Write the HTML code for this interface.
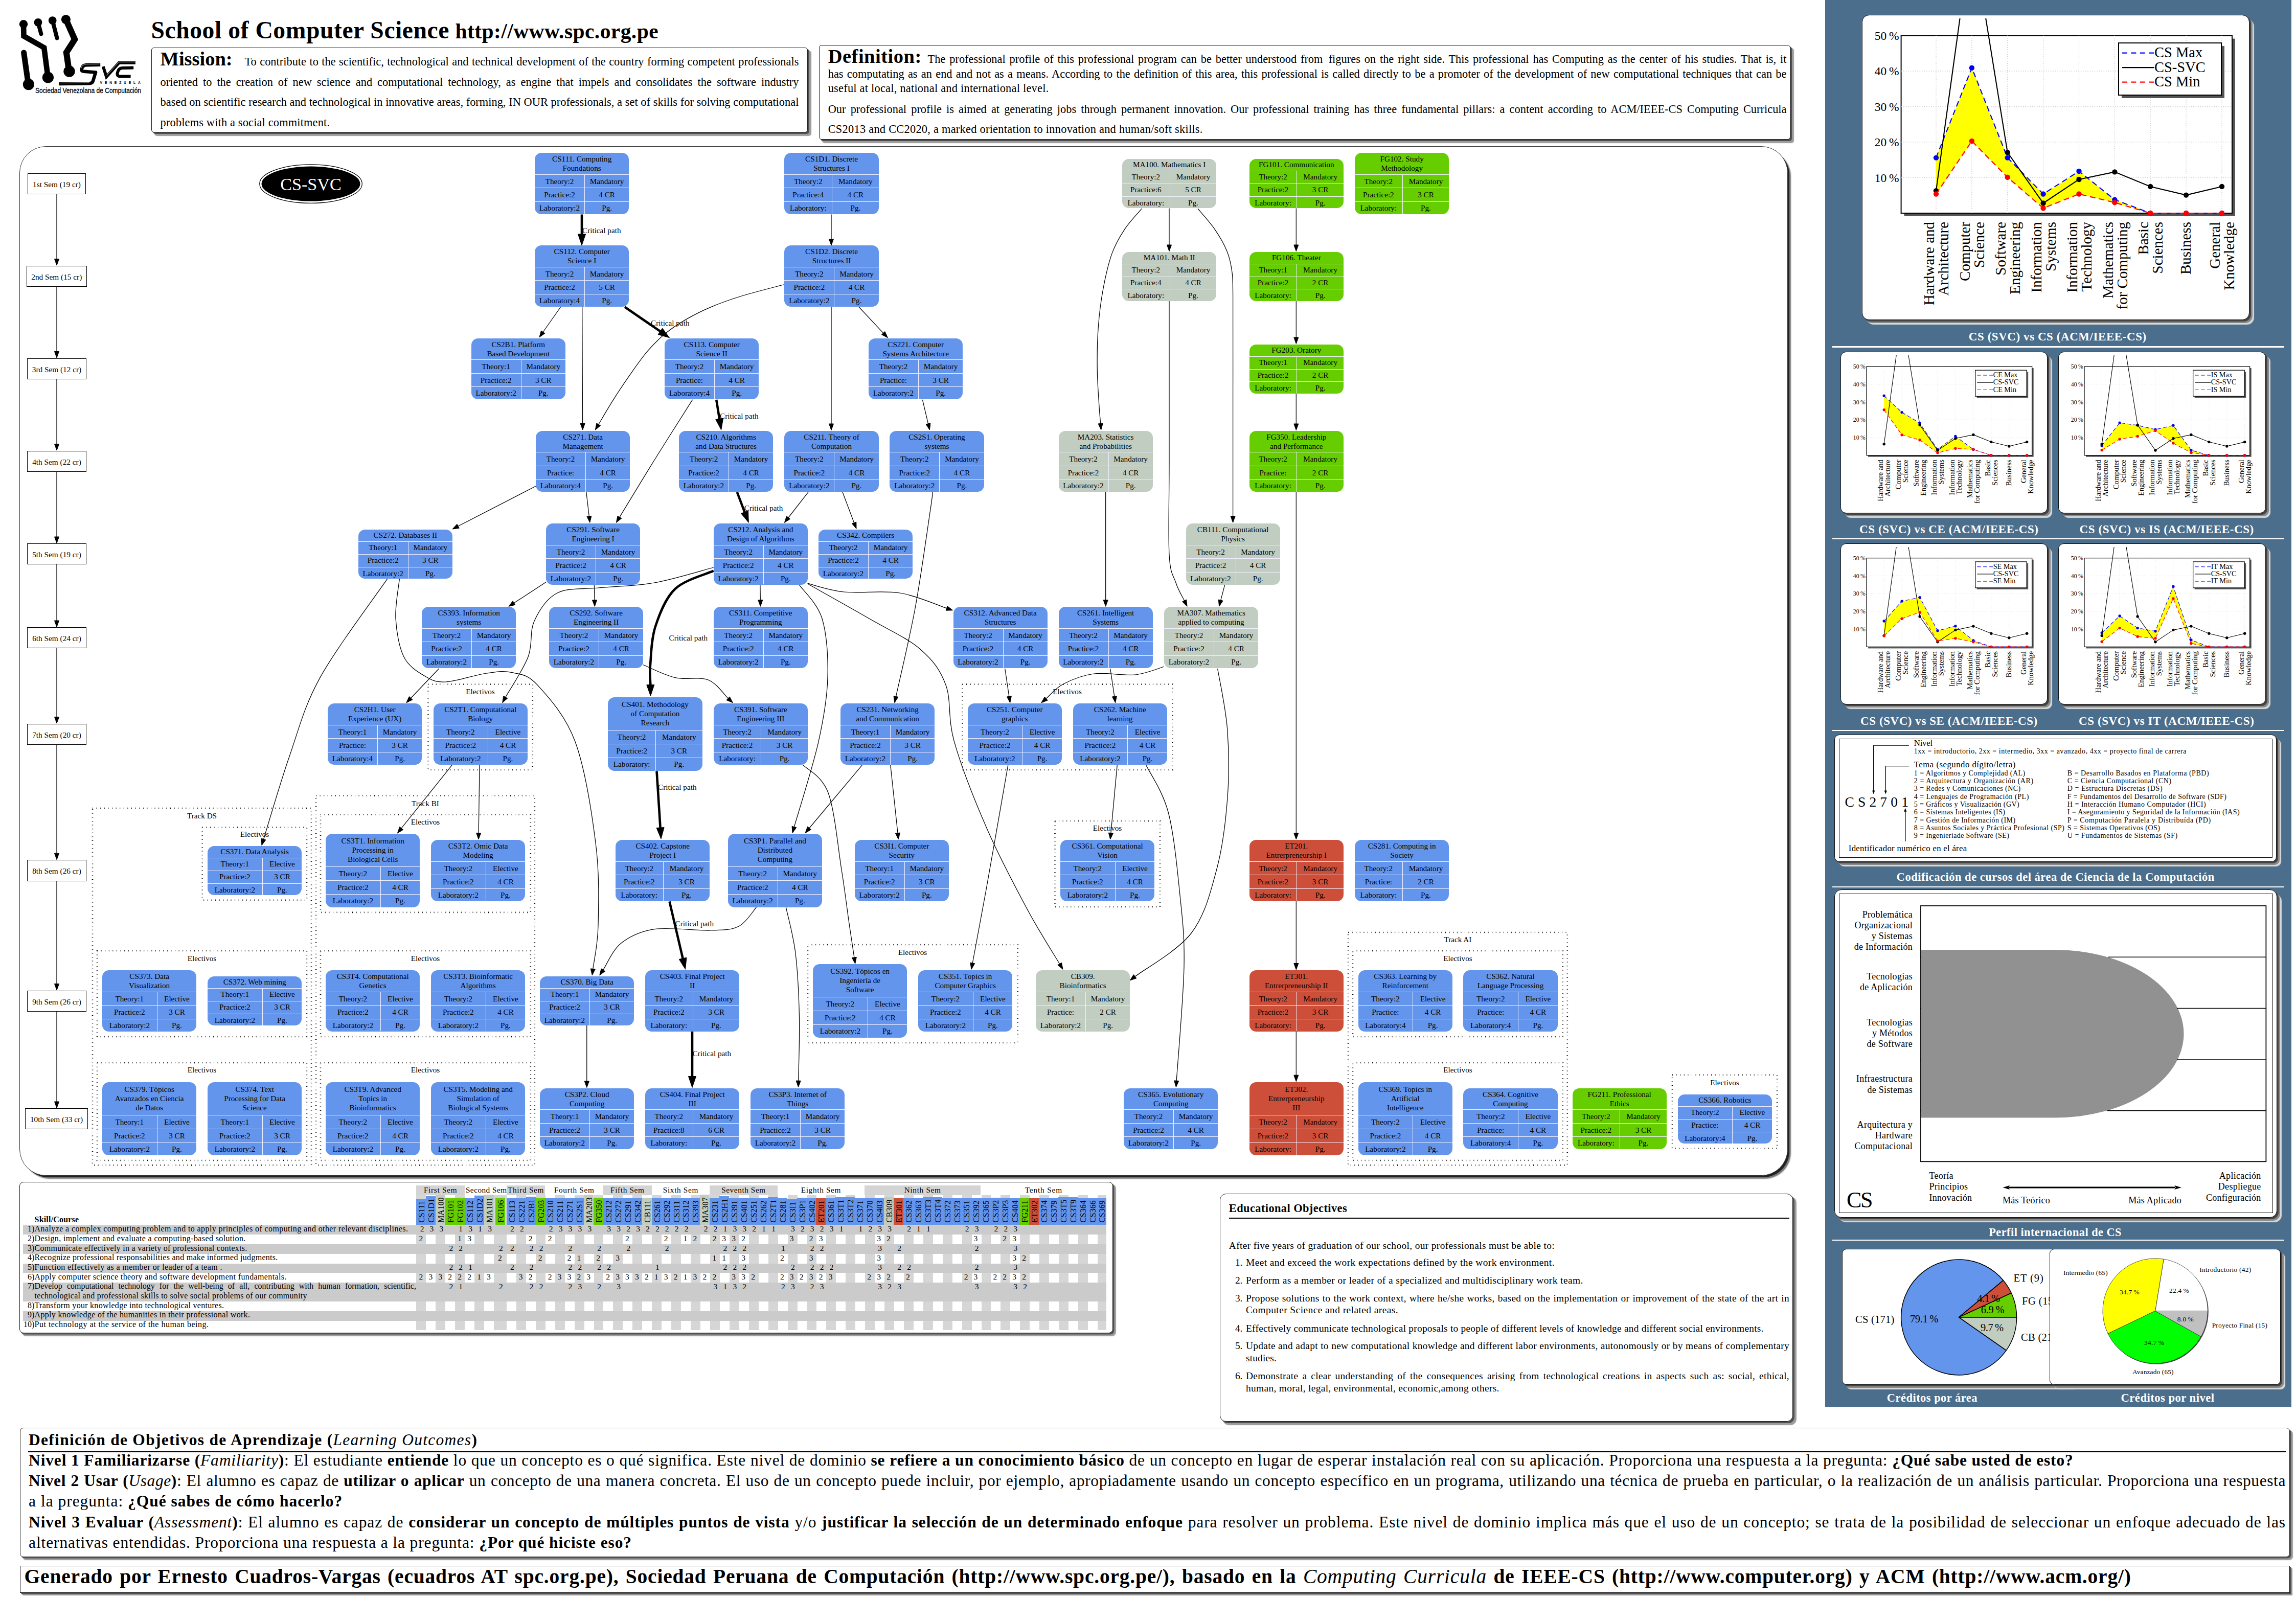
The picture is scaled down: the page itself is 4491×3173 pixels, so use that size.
<!DOCTYPE html><html><head><meta charset="utf-8"><title>Curricula</title><style>html,body{margin:0;padding:0;background:#fff}body{width:4491px;height:3173px;position:relative;overflow:hidden;font-family:"Liberation Serif",serif;color:#000}.t{position:absolute;white-space:nowrap;line-height:1;font-family:"Liberation Serif",serif}.s{font-family:"Liberation Sans",sans-serif}.b{font-weight:bold}.i{font-style:italic}.j{text-align:justify;text-align-last:justify}.n{position:absolute;width:184.3px;border-radius:13px;font:15.2px/18px "Liberation Serif",serif;text-align:center;overflow:hidden;white-space:nowrap;color:#000}.cb{background:#6495ed}.cg{background:#c1cdc1}.cv{background:#66cd00}.cr{background:#cd4f39}.nt{box-sizing:border-box;overflow:hidden}.nr{box-sizing:border-box;border-top:1.2px solid #eef;display:flex}.nr span{display:block;box-sizing:border-box}.nr span+span{border-left:1.2px solid #eef;flex:1}.nr.e span:first-child{width:106.7px}.nr.o span:first-child{width:92.7px}.nr.m span:first-child{width:97px}.k1{height:96px}.k1 .nt{height:23px;padding-top:2.1px}.k1 .r1{height:25px;line-height:21.6px}.k1 .r2{height:24.5px;line-height:21.8px}.k1 .r3{height:23.5px;line-height:23.5px}.k2{height:119.5px}.k2 .nt{height:41.6px;padding-top:3px}.k2 .r1{height:26.5px;line-height:25px}.k2 .r2{height:26.5px;line-height:25px}.k2 .r3{height:24.9px;line-height:23.4px}.k3{height:143.7px}.k3 .nt{height:64px;padding-top:5.2px}.k3 .r1{height:27px;line-height:25.5px}.k3 .r2{height:27px;line-height:25.5px}.k3 .r3{height:25.7px;line-height:24.2px}.sm{position:absolute;box-sizing:border-box;height:41.4px;border:1.2px solid #000;background:#fff;font:15.3px/42.4px "Liberation Serif",serif;text-align:center;white-space:nowrap}.hc{position:absolute;width:19px;bottom:0;font:15.8px/1 "Liberation Serif",serif;white-space:nowrap}.hc span{position:absolute;left:3px;bottom:4.4px;transform-origin:0 100%;transform:rotate(-90deg) translateY(100%);display:block;letter-spacing:0.1px}.dn{position:absolute;width:18.9px;text-align:center;font:15.6px/1 "Liberation Serif",serif}</style></head><body><svg style="position:absolute;left:0;top:0" width="300" height="200" viewBox="0 0 300 200"><g fill="none" stroke="#000" stroke-linejoin="miter" stroke-linecap="round"><polyline points="46,47.2 46.5,70.6 86.2,93.2 93.8,151.5" stroke-width="10.6" stroke-linecap="butt"/><polyline points="74.5,43.9 80.4,66.3" stroke-width="8"/><polyline points="102.7,40.1 111.5,74.4" stroke-width="8"/><polyline points="128.9,38 146.2,77.1 129.8,102.7 135.2,139.9" stroke-width="12" stroke-linecap="butt"/><polyline points="46.6,102.9 55.4,164.9" stroke-width="11"/></g><g fill="#000"><circle cx="46" cy="47.2" r="8.2"/><circle cx="93.9" cy="151.5" r="11.1"/><circle cx="74.5" cy="43.9" r="7.9"/><circle cx="102.7" cy="40.1" r="7.9"/><circle cx="128.9" cy="38" r="9.1"/><circle cx="135.5" cy="139.6" r="11.2"/><circle cx="55.9" cy="165.1" r="11.1"/></g><g fill="none" stroke="#000" stroke-width="6.6" stroke-linejoin="round" stroke-linecap="butt"><path d="M196.2,126.7 L169.4,127.1 Q161.5,127.3 160,134.4 Q158.4,139.5 163.9,139.8 L187.1,141.5 L181.6,159.4 Q179.8,163.2 174.9,163.3 L115.5,163.9"/><path d="M201.7,130.1 L208.2,150.2 L232.8,122.8 L264.9,122.8" stroke-linejoin="miter" stroke-width="6"/><path d="M261.2,132.6 L239.5,132.9 Q231.6,133.2 230,141.7 Q227.9,149 234.6,149.4 L255.6,149.6" stroke-width="6"/></g><g fill="none" stroke="#fff" stroke-width="0.7"><path d="M194.4,125.2 L169.4,125.6 Q160.2,125.9 158.4,134.1 "/><path d="M208.8,147.6 L232.4,121.3 L263.9,121.3"/><path d="M117.6,162.4 L174.9,161.8"/></g></svg>
<div class="t s b" style="top:159px;font-size:6.7px;left:195.6px;letter-spacing:4.84px;">VENEZUELA</div>
<div class="t s" style="top:168.8px;font-size:15.2px;left:68.8px;transform-origin:0 0;transform:scaleX(0.791);-webkit-text-stroke:0.3px #000;">Sociedad Venezolana de Computación</div>
<div class="t b" style="top:36.1px;font-size:47.6px;left:295.5px;letter-spacing:0.56px;">School of Computer Science</div>
<div class="t b" style="top:41.2px;font-size:41.5px;left:890.5px;letter-spacing:0.43px;">http://www.spc.org.pe</div>
<div style="position:absolute;left:295.5px;top:92.7px;width:1284.5px;height:165.9px;box-sizing:border-box;border:1px solid #222;border-radius:5px;background:#fff;box-shadow:3px 3px 0 0 #505050,6.3px 6.3px 1.2px 0 #9c9c9c;"></div>
<div class="t b" style="top:95.6px;font-size:38.5px;left:313.6px;letter-spacing:-0.02px;">Mission:</div>
<div class="t j" style="top:110.2px;font-size:22.4px;left:478.5px;width:1083.9px;">To contribute to the scientific, technological and technical development of the country forming competent professionals</div>
<div class="t j" style="top:149.7px;font-size:22.4px;left:313.6px;width:1248.8px;">oriented to the creation of new science and computational technology, as engine that impels and consolidates the software industry</div>
<div class="t j" style="top:189.4px;font-size:22.4px;left:313.6px;width:1248.8px;">based on scientific research and technological in innovative areas, forming, IN OUR professionals, a set of skills for solving computational</div>
<div class="t" style="top:229.4px;font-size:22.4px;left:313.6px;letter-spacing:0.15px;">problems with a social commitment.</div>
<div style="position:absolute;left:1601.8px;top:87.9px;width:1900.7px;height:185.5px;box-sizing:border-box;border:1px solid #222;border-radius:5px;background:#fff;box-shadow:3px 3px 0 0 #505050,6.3px 6.3px 1.2px 0 #9c9c9c;"></div>
<div class="t b" style="top:90.8px;font-size:38.5px;left:1619.7px;letter-spacing:0.50px;">Definition:</div>
<div class="t j" style="top:105.4px;font-size:22.4px;left:1814.6px;width:1679.9px;">The professional profile of this professional program can be better understood from figures on the right side. This professional has Computing as the center of his studies. That is, it</div>
<div class="t j" style="top:133.8px;font-size:22.4px;left:1619.7px;width:1874.8px;">has computating as an end and not as a means. According to the definition of this area, this professional is called directly to be a promoter of the development of new computational techniques that can be</div>
<div class="t" style="top:162.4px;font-size:22.4px;left:1619.7px;letter-spacing:0.23px;">useful at local, national and international level.</div>
<div class="t j" style="top:202.8px;font-size:22.4px;left:1619.7px;width:1874.8px;">Our professional profile is aimed at generating jobs through permanent innovation. Our professional training has three fundamental pillars: a content according to ACM/IEEE-CS Computing Curricula</div>
<div class="t" style="top:242.4px;font-size:22.4px;left:1619.7px;letter-spacing:0.25px;">CS2013 and CC2020, a marked orientation to innovation and human/soft skills.</div>
<div style="position:absolute;left:38px;top:285.6px;width:3459px;height:2014.5px;box-sizing:border-box;border:1.3px solid #333;border-radius:52px;background:#fff;box-shadow:4px 4px 0 -1px #222,7px 7px 2px -1px #777"></div>
<svg style="position:absolute;left:0;top:0" width="3560" height="2320" viewBox="0 0 3560 2320"><g fill="none" stroke="#000" stroke-width="2.6" stroke-dasharray="1 6.6"><rect x="837.5" y="1338.6" width="204.3" height="167.4"/><rect x="1882.5" y="1338.6" width="410.9" height="167.4"/><rect x="181" y="1581" width="428" height="698.4"/><rect x="395.7" y="1618.6" width="204.3" height="142.2"/><rect x="190" y="1860" width="410" height="168"/><rect x="190" y="2079" width="410" height="191"/><rect x="618" y="1556.5" width="427.8" height="722.9"/><rect x="627" y="1593.5" width="410.8" height="191.4"/><rect x="627" y="1860" width="410.8" height="168"/><rect x="627" y="2079" width="410.8" height="191"/><rect x="2063.5" y="1606" width="205.5" height="168"/><rect x="1580" y="1848" width="410.7" height="192"/><rect x="2637" y="1824" width="428.8" height="455.4"/><rect x="2646" y="1860" width="410.8" height="168"/><rect x="2646" y="2079" width="410.8" height="191"/><rect x="3271" y="2102.7" width="205" height="143.9"/></g><g fill="none" stroke="#000"><path d="M1138,419.5 L1138,458" stroke-width="4.6"/><path d="M1096.7,600.5 L1062.2,649.5" stroke-width="1.25"/><path d="M1138.7,600.5 L1139.6,828.5" stroke-width="1.25"/><path d="M1222,600.5 L1291.4,648.2" stroke-width="4.6"/><path d="M1626,419.5 L1626,467.5" stroke-width="1.25"/><path d="M1534.4,556.5 C1520.5,560.2 1474.7,571.7 1450.8,579 C1426.8,586.4 1409,592.8 1390.7,600.6 C1372.3,608.3 1355.6,616.8 1340.6,625.6 C1325.6,634.4 1313,642.7 1300.5,653.2 C1288,663.6 1277.2,674.4 1265.5,688.2 C1253.8,702 1241.3,720.4 1230.4,735.8 C1219.6,751.2 1210.3,765.1 1200.4,780.9 C1190.4,796.6 1175.7,822 1170.7,830.3" stroke-width="1.25"/><path d="M1626,600.5 L1626,829" stroke-width="1.25"/><path d="M1680,600.5 L1727.8,651.6" stroke-width="1.25"/><path d="M1354.6,781.9 C1342.2,801.6 1303.8,861.7 1280,900 C1256.2,938.3 1223.3,993 1211.9,1011.6" stroke-width="1.25"/><path d="M1401.2,781.9 L1407.2,819.3" stroke-width="4.6"/><path d="M1804.4,781.9 L1815.5,828.8" stroke-width="1.25"/><path d="M1048,951 L896.1,1029.3" stroke-width="1.25"/><path d="M1146.8,962.7 L1152.3,1009.9" stroke-width="1.25"/><path d="M1441.8,962.7 L1456.5,1001.7" stroke-width="4.6"/><path d="M1581,962.7 L1542.1,1012.5" stroke-width="1.25"/><path d="M1648,962.7 L1670.6,1022.6" stroke-width="1.25"/><path d="M1824.4,962.7 C1823.6,968.9 1825.1,962.1 1819.4,1000 C1813.7,1037.9 1801.2,1129.6 1790,1190 C1778.8,1250.4 1758.7,1333.7 1752.5,1362.5" stroke-width="1.25"/><path d="M2233.3,408.2 C2227.8,414.8 2209.9,433.3 2200.3,447.8 C2190.6,462.3 2182.3,475.8 2175.2,495.4 C2168.1,515 2162.2,541.3 2157.7,565.5 C2153.2,589.7 2150.1,614.8 2148.2,640.6 C2146.3,666.5 2145.9,695.7 2146.2,720.8 C2146.4,745.8 2148.6,772.9 2149.7,790.9 C2150.8,808.9 2152.2,822.3 2152.7,828.5" stroke-width="1.25"/><path d="M2287,407.5 L2287,479" stroke-width="1.25"/><path d="M2343,408.2 C2348.4,414.8 2366.1,434.1 2375.6,447.8 C2385,461.5 2393.9,476.6 2399.6,490.4 C2405.3,504.1 2407.6,515.4 2409.6,530.4 C2411.6,545.5 2411.3,538.8 2411.6,580.5 C2412,622.3 2411.6,709.3 2411.6,780.9 C2411.6,852.4 2411.6,971.6 2411.6,1009.8" stroke-width="1.25"/><path d="M2287,588.5 C2287,640.4 2287,817.2 2287,900 C2287,982.8 2284.8,1045 2287,1085 C2289.2,1125 2295.1,1125 2300,1140 C2304.9,1155 2313.9,1169.2 2316.6,1175" stroke-width="1.25"/><path d="M2535.3,407.5 L2535.3,479" stroke-width="1.25"/><path d="M2535.3,588.5 L2535.3,660" stroke-width="1.25"/><path d="M2535.3,769.5 L2535.3,829" stroke-width="1.25"/><path d="M2535.3,962.5 L2535.3,1629.5" stroke-width="1.25"/><path d="M2535.3,1762.5 L2535.3,1884.5" stroke-width="1.25"/><path d="M2535.3,2017.5 L2535.3,2103.2" stroke-width="1.25"/><path d="M2162.7,962.5 L2162.7,1173.8" stroke-width="1.25"/><path d="M2395.6,1144.3 L2387.8,1174.2" stroke-width="1.25"/><path d="M1068,1138.7 L1005.5,1179.5" stroke-width="1.25"/><path d="M1162.3,1144.3 L1163,1173.8" stroke-width="1.25"/><path d="M1395.7,1110 C1376.4,1115 1317.6,1133.3 1280,1140 C1242.4,1146.7 1201.7,1146.7 1170,1150 C1138.3,1153.3 1110.8,1149.2 1090,1160 C1069.2,1170.8 1054.5,1194.2 1045,1215 C1035.5,1235.8 1042.4,1260.2 1033,1285 C1023.6,1309.8 996.2,1350.7 988.8,1363.8" stroke-width="1.25"/><path d="M1395.7,1116.7 C1383.2,1122.6 1339.5,1133.9 1320.6,1152 C1301.6,1170.1 1290.1,1200.7 1282,1225.4 C1273.9,1250.2 1273.6,1281.5 1272,1300.5 C1270.4,1319.5 1272.3,1333.1 1272.3,1339.6" stroke-width="4.6"/><path d="M1486.9,1144.3 L1487.3,1173.8" stroke-width="1.25"/><path d="M1563.5,1144.3 C1570.9,1155.2 1598.8,1179.8 1608,1210 C1617.2,1240.2 1620.2,1285.5 1619,1325.6 C1617.8,1365.7 1611.9,1402.1 1601,1450.8 C1590.1,1499.5 1561.4,1589.8 1553.4,1617.6" stroke-width="1.25"/><path d="M1579.5,1141.2 C1591.4,1144 1620.9,1154.9 1651,1158 C1681.1,1161.1 1726.6,1154.7 1760,1160 C1793.4,1165.3 1836.3,1184.9 1851.6,1189.9" stroke-width="1.25"/><path d="M1581,1142.7 C1600.8,1153.9 1663.5,1188.8 1700,1210 C1736.5,1231.2 1775,1248.3 1800,1270 C1825,1291.7 1838.9,1309.9 1850,1340 C1861.1,1370.1 1853.2,1404.1 1866.5,1450.8 C1879.8,1497.5 1906.1,1565.1 1930,1620 C1953.9,1674.9 1986.2,1735.7 2010,1780 C2033.8,1824.3 2062.2,1868 2072.6,1885.5" stroke-width="1.25"/><path d="M757.8,1132.2 C735.8,1164.4 658,1267.6 626,1325.6 C594,1383.6 584.4,1427.3 566,1480 C547.6,1532.7 524,1614.7 515.6,1641.7" stroke-width="1.25"/><path d="M781.4,1132.2 C780.2,1145.2 772.6,1184.5 774,1210 C775.4,1235.5 780.7,1266.3 790,1285 C799.3,1303.7 816.4,1313.8 830,1322 C843.6,1330.2 851.2,1334.8 871.5,1334 C891.8,1333.2 930,1320.1 951.7,1317 C973.4,1313.9 985.1,1311.7 1001.8,1315.6 C1018.5,1319.5 1031.3,1318.1 1051.8,1340.6 C1072.3,1363.1 1106.1,1399.1 1125,1450.8 C1143.9,1502.5 1157.8,1591.1 1165.3,1651 C1172.8,1710.9 1170.9,1769.3 1170,1810 C1169.1,1850.7 1161.5,1881.2 1159.8,1895.4" stroke-width="1.25"/><path d="M858.5,1308 L803.5,1365.7" stroke-width="1.25"/><path d="M1258,1300.5 C1268.4,1304.7 1299.4,1320.7 1320.6,1325.6 C1341.8,1330.5 1367.7,1323.2 1385,1330 C1402.3,1336.8 1417.6,1360.2 1424.1,1366.2" stroke-width="1.25"/><path d="M1965.7,1308 L1973.8,1362.3" stroke-width="1.25"/><path d="M2171.7,1308 L2179.8,1362.3" stroke-width="1.25"/><path d="M2277,1304 C2267.5,1306.7 2242.8,1317.7 2220,1320 C2197.2,1322.3 2163.3,1315 2140,1318 C2116.7,1321 2095.6,1329.9 2080,1338 C2064.4,1346.1 2051.9,1361.8 2046.3,1366.6" stroke-width="1.25"/><path d="M2381.6,1308 C2384.8,1327.6 2397.4,1383.8 2400.6,1425.8 C2403.8,1467.8 2404.4,1514.3 2401,1560 C2397.6,1605.7 2391.8,1655.8 2380,1700 C2368.2,1744.2 2357.1,1790 2330.5,1825 C2303.9,1860 2238.6,1896 2220.2,1910.2" stroke-width="1.25"/><path d="M884,1496.9 L785.2,1620.2" stroke-width="1.25"/><path d="M938,1496.9 L936.2,1629.5" stroke-width="1.25"/><path d="M1284.5,1508.4 L1291.6,1619" stroke-width="4.6"/><path d="M1570,1495.9 C1578.3,1505.1 1607.3,1516.8 1620,1551 C1632.7,1585.2 1639.3,1659.5 1646,1701 C1652.7,1742.5 1655.9,1771.3 1660,1800 C1664.1,1828.7 1669,1860.8 1670.9,1872.9" stroke-width="1.25"/><path d="M1686.2,1496.9 L1583,1620" stroke-width="1.25"/><path d="M1741.8,1496.9 L1756,1629.6" stroke-width="1.25"/><path d="M1971.7,1496.9 C1964.6,1537.4 1940.6,1675.5 1929,1740 C1917.4,1804.5 1906.7,1860 1902.3,1884" stroke-width="1.25"/><path d="M2185.2,1496.9 L2172.9,1629.6" stroke-width="1.25"/><path d="M2241.8,1496.9 C2249.1,1512.4 2274.4,1547.6 2285.4,1590 C2296.4,1632.4 2302.9,1701.3 2308,1751.3 C2313.1,1801.3 2317.1,1829.5 2316,1890 C2314.9,1950.5 2303.7,2076.9 2301.2,2114.2" stroke-width="1.25"/><path d="M1309.5,1763.5 L1335.6,1874.9" stroke-width="4.6"/><path d="M1479.3,1775 C1473.6,1781.2 1459.9,1804.5 1445,1812 C1430.1,1819.5 1417.4,1819.1 1390,1820 C1362.6,1820.9 1309.7,1813.4 1280.5,1817.6 C1251.3,1821.8 1231.8,1831.7 1215,1845 C1198.2,1858.3 1185.6,1888.7 1179.8,1897.4" stroke-width="1.25"/><path d="M1537.4,1775 C1540.5,1790 1551.7,1829.2 1556,1865 C1560.3,1900.8 1562.6,1948.5 1563.5,1990 C1564.4,2031.5 1562,2093.5 1561.7,2114.2" stroke-width="1.25"/><path d="M1147.8,2006 L1147.8,2115" stroke-width="1.25"/><path d="M1354,2018 L1354,2105.5" stroke-width="4.6"/><path d="M111,380 L111,506.5" stroke-width="1.25"/><path d="M111,560.5 L111,687.5" stroke-width="1.25"/><path d="M111,741.5 L111,868.5" stroke-width="1.25"/><path d="M111,922.5 L111,1050" stroke-width="1.25"/><path d="M111,1104 L111,1214" stroke-width="1.25"/><path d="M111,1268 L111,1402.5" stroke-width="1.25"/><path d="M111,1456.5 L111,1669.2" stroke-width="1.25"/><path d="M111,1723.2 L111,1924.5" stroke-width="1.25"/><path d="M111,1978.5 L111,2155" stroke-width="1.25"/></g><g fill="#000" stroke="#000" stroke-width="1"><polygon points="1138,480 1130.5,458 1145.5,458"/><polygon points="1055,659.7 1058.5,646.9 1065.9,652.1"/><polygon points="1139.7,841 1135.1,828.5 1144.1,828.5"/><polygon points="1309.5,660.7 1287.1,654.4 1295.6,642.1"/><polygon points="1626,480 1621.5,467.5 1630.5,467.5"/><polygon points="1164.3,841 1166.9,827.9 1174.6,832.6"/><polygon points="1626,841.5 1621.5,829 1630.5,829"/><polygon points="1736.3,660.7 1724.5,654.6 1731,648.5"/><polygon points="1205.4,1022.3 1208.1,1009.3 1215.8,1014"/><polygon points="1410.7,841 1399.8,820.5 1414.6,818.1"/><polygon points="1818.4,841 1811.1,829.9 1819.9,827.8"/><polygon points="885,1035 894,1025.3 898.2,1033.3"/><polygon points="1153.8,1022.3 1147.9,1010.4 1156.8,1009.4"/><polygon points="1464.3,1022.3 1449.5,1004.4 1463.5,999.1"/><polygon points="1534.4,1022.3 1538.6,1009.7 1545.6,1015.2"/><polygon points="1675,1034.3 1666.4,1024.2 1674.8,1021"/><polygon points="1749.8,1374.7 1748.1,1361.5 1756.9,1363.4"/><polygon points="2153.7,841 2148.2,828.9 2157.2,828.2"/><polygon points="2287,491.5 2282.5,479 2291.5,479"/><polygon points="2411.6,1022.3 2407.1,1009.8 2416.1,1009.8"/><polygon points="2322,1186.3 2312.6,1176.9 2320.7,1173.1"/><polygon points="2535.3,491.5 2530.8,479 2539.8,479"/><polygon points="2535.3,672.5 2530.8,660 2539.8,660"/><polygon points="2535.3,841.5 2530.8,829 2539.8,829"/><polygon points="2535.3,1642 2530.8,1629.5 2539.8,1629.5"/><polygon points="2535.3,1897 2530.8,1884.5 2539.8,1884.5"/><polygon points="2535.3,2115.7 2530.8,2103.2 2539.8,2103.2"/><polygon points="2162.7,1186.3 2158.2,1173.8 2167.2,1173.8"/><polygon points="2384.6,1186.3 2383.4,1173.1 2392.1,1175.3"/><polygon points="995,1186.3 1003,1175.7 1007.9,1183.2"/><polygon points="1163.3,1186.3 1158.5,1173.9 1167.5,1173.7"/><polygon points="982.7,1374.7 984.9,1361.6 992.7,1366"/><polygon points="1272.5,1361.6 1264.8,1339.7 1279.8,1339.5"/><polygon points="1487.4,1186.3 1482.8,1173.9 1491.8,1173.7"/><polygon points="1550,1629.6 1549.1,1616.3 1557.8,1618.8"/><polygon points="1863.5,1193.8 1850.2,1194.2 1853,1185.6"/><polygon points="2079,1896.3 2068.8,1887.8 2076.5,1883.3"/><polygon points="511.9,1653.6 511.3,1640.3 519.9,1643"/><polygon points="1158.3,1907.8 1155.3,1894.9 1164.3,1895.9"/><polygon points="794.9,1374.7 800.3,1362.5 806.8,1368.8"/><polygon points="1433.3,1374.7 1421.1,1369.5 1427.2,1362.9"/><polygon points="1975.7,1374.7 1969.4,1363 1978.3,1361.7"/><polygon points="2181.7,1374.7 2175.4,1363 2184.3,1361.7"/><polygon points="2036.8,1374.7 2043.4,1363.2 2049.2,1370"/><polygon points="2210.3,1917.8 2217.4,1906.6 2222.9,1913.7"/><polygon points="777.4,1630 781.7,1617.4 788.7,1623.1"/><polygon points="936,1642 931.7,1629.4 940.7,1629.6"/><polygon points="1293,1641 1284.1,1619.5 1299.1,1618.6"/><polygon points="1672.7,1885.3 1666.4,1873.6 1675.3,1872.3"/><polygon points="1575,1629.6 1579.6,1617.1 1586.5,1622.9"/><polygon points="1757.3,1642 1751.5,1630 1760.4,1629.1"/><polygon points="1900,1896.3 1897.9,1883.2 1906.7,1884.8"/><polygon points="2171.7,1642 2168.4,1629.1 2177.3,1630"/><polygon points="2300.4,2126.7 2296.7,2113.9 2305.7,2114.5"/><polygon points="1340.6,1896.3 1328.3,1876.6 1342.9,1873.2"/><polygon points="1172.8,1907.8 1176,1894.9 1183.5,1899.9"/><polygon points="1561.5,2126.7 1557.2,2114.1 1566.2,2114.3"/><polygon points="1147.8,2127.5 1143.3,2115 1152.3,2115"/><polygon points="1354,2127.5 1346.5,2105.5 1361.5,2105.5"/><polygon points="111,519 106.5,506.5 115.5,506.5"/><polygon points="111,700 106.5,687.5 115.5,687.5"/><polygon points="111,881 106.5,868.5 115.5,868.5"/><polygon points="111,1062.5 106.5,1050 115.5,1050"/><polygon points="111,1226.5 106.5,1214 115.5,1214"/><polygon points="111,1415 106.5,1402.5 115.5,1402.5"/><polygon points="111,1681.7 106.5,1669.2 115.5,1669.2"/><polygon points="111,1937 106.5,1924.5 115.5,1924.5"/><polygon points="111,2167.5 106.5,2155 115.5,2155"/></g><ellipse cx="608" cy="359.6" rx="100.3" ry="37.8" fill="none" stroke="#000" stroke-width="1.2"/><ellipse cx="608" cy="359.6" rx="96.5" ry="34" fill="#000"/></svg>
<div class="t" style="top:344px;font-size:34.2px;left:608px;transform:translateX(-50%);color:#fff;">CS-SVC</div>
<div class="t" style="top:1345.3px;font-size:15.2px;left:939.5px;transform:translateX(-50%);">Electivos</div>
<div class="t" style="top:1345.3px;font-size:15.2px;left:2087.6px;transform:translateX(-50%);">Electivos</div>
<div class="t" style="top:1588.3px;font-size:15.2px;left:395px;transform:translateX(-50%);">Track DS</div>
<div class="t" style="top:1624.3px;font-size:15.2px;left:498px;transform:translateX(-50%);">Electivos</div>
<div class="t" style="top:1867px;font-size:15.2px;left:395px;transform:translateX(-50%);">Electivos</div>
<div class="t" style="top:2085.3px;font-size:15.2px;left:395px;transform:translateX(-50%);">Electivos</div>
<div class="t" style="top:1563.8px;font-size:15.2px;left:832px;transform:translateX(-50%);">Track BI</div>
<div class="t" style="top:1599.9px;font-size:15.2px;left:832px;transform:translateX(-50%);">Electivos</div>
<div class="t" style="top:1867px;font-size:15.2px;left:832px;transform:translateX(-50%);">Electivos</div>
<div class="t" style="top:2085.3px;font-size:15.2px;left:832px;transform:translateX(-50%);">Electivos</div>
<div class="t" style="top:1612.3px;font-size:15.2px;left:2166px;transform:translateX(-50%);">Electivos</div>
<div class="t" style="top:1855.3px;font-size:15.2px;left:1785px;transform:translateX(-50%);">Electivos</div>
<div class="t" style="top:1830.3px;font-size:15.2px;left:2851.4px;transform:translateX(-50%);">Track AI</div>
<div class="t" style="top:1867px;font-size:15.2px;left:2851.4px;transform:translateX(-50%);">Electivos</div>
<div class="t" style="top:2085.3px;font-size:15.2px;left:2851.4px;transform:translateX(-50%);">Electivos</div>
<div class="t" style="top:2110.3px;font-size:15.2px;left:3373.5px;transform:translateX(-50%);">Electivos</div>
<div class="t" style="top:443.3px;font-size:15.2px;left:1139px;">Critical path</div>
<div class="t" style="top:624.3px;font-size:15.2px;left:1273px;">Critical path</div>
<div class="t" style="top:805.7px;font-size:15.2px;left:1408px;">Critical path</div>
<div class="t" style="top:986.3px;font-size:15.2px;left:1455.8px;">Critical path</div>
<div class="t" style="top:1240.3px;font-size:15.2px;left:1308.5px;">Critical path</div>
<div class="t" style="top:1532.3px;font-size:15.2px;left:1287px;">Critical path</div>
<div class="t" style="top:1799.3px;font-size:15.2px;left:1320.6px;">Critical path</div>
<div class="t" style="top:2053.3px;font-size:15.2px;left:1354.6px;">Critical path</div>
<div class="sm" style="left:54px;top:339.1px;width:114px">1st Sem (19 cr)</div>
<div class="sm" style="left:51.6px;top:519.6px;width:118.4px">2nd Sem (15 cr)</div>
<div class="sm" style="left:53px;top:700.6px;width:116px">3rd Sem (12 cr)</div>
<div class="sm" style="left:53px;top:881.6px;width:116px">4th Sem (22 cr)</div>
<div class="sm" style="left:53px;top:1063.1px;width:116px">5th Sem (19 cr)</div>
<div class="sm" style="left:53px;top:1227.1px;width:116px">6th Sem (24 cr)</div>
<div class="sm" style="left:53px;top:1415.6px;width:116px">7th Sem (20 cr)</div>
<div class="sm" style="left:53px;top:1682.3px;width:116px">8th Sem (26 cr)</div>
<div class="sm" style="left:53px;top:1937.6px;width:116px">9th Sem (26 cr)</div>
<div class="sm" style="left:49px;top:2168.1px;width:123px">10th Sem (33 cr)</div>
<div class="n k2 cb" style="left:1046px;top:299.2px"><div class="nt">CS111. Computing<br>Foundations</div><div class="nr r1 m"><span>Theory:2</span><span>Mandatory</span></div><div class="nr r2 m"><span>Practice:2</span><span>4 CR</span></div><div class="nr r3 m"><span>Laboratory:2</span><span>Pg.</span></div></div>
<div class="n k2 cb" style="left:1534.4px;top:299.2px"><div class="nt">CS1D1. Discrete<br>Structures I</div><div class="nr r1 o"><span>Theory:2</span><span>Mandatory</span></div><div class="nr r2 o"><span>Practice:4</span><span>4 CR</span></div><div class="nr r3 o"><span>Laboratory:</span><span>Pg.</span></div></div>
<div class="n k1 cg" style="left:2195px;top:311px"><div class="nt">MA100. Mathematics I</div><div class="nr r1 o"><span>Theory:2</span><span>Mandatory</span></div><div class="nr r2 o"><span>Practice:6</span><span>5 CR</span></div><div class="nr r3 o"><span>Laboratory:</span><span>Pg.</span></div></div>
<div class="n k1 cv" style="left:2443.7px;top:311px"><div class="nt">FG101. Communication</div><div class="nr r1 o"><span>Theory:2</span><span>Mandatory</span></div><div class="nr r2 o"><span>Practice:2</span><span>3 CR</span></div><div class="nr r3 o"><span>Laboratory:</span><span>Pg.</span></div></div>
<div class="n k2 cv" style="left:2650px;top:299.2px"><div class="nt">FG102. Study<br>Methodology</div><div class="nr r1 o"><span>Theory:2</span><span>Mandatory</span></div><div class="nr r2 o"><span>Practice:2</span><span>3 CR</span></div><div class="nr r3 o"><span>Laboratory:</span><span>Pg.</span></div></div>
<div class="n k2 cb" style="left:1046px;top:480.4px"><div class="nt">CS112. Computer<br>Science I</div><div class="nr r1 m"><span>Theory:2</span><span>Mandatory</span></div><div class="nr r2 m"><span>Practice:2</span><span>5 CR</span></div><div class="nr r3 m"><span>Laboratory:4</span><span>Pg.</span></div></div>
<div class="n k2 cb" style="left:1534.4px;top:480.4px"><div class="nt">CS1D2. Discrete<br>Structures II</div><div class="nr r1 m"><span>Theory:2</span><span>Mandatory</span></div><div class="nr r2 m"><span>Practice:2</span><span>4 CR</span></div><div class="nr r3 m"><span>Laboratory:2</span><span>Pg.</span></div></div>
<div class="n k1 cg" style="left:2195px;top:492.6px"><div class="nt">MA101. Math II</div><div class="nr r1 o"><span>Theory:2</span><span>Mandatory</span></div><div class="nr r2 o"><span>Practice:4</span><span>4 CR</span></div><div class="nr r3 o"><span>Laboratory:</span><span>Pg.</span></div></div>
<div class="n k1 cv" style="left:2443.7px;top:492.6px"><div class="nt">FG106. Theater</div><div class="nr r1 o"><span>Theory:1</span><span>Mandatory</span></div><div class="nr r2 o"><span>Practice:2</span><span>2 CR</span></div><div class="nr r3 o"><span>Laboratory:</span><span>Pg.</span></div></div>
<div class="n k2 cb" style="left:921.6px;top:661.5px"><div class="nt">CS2B1. Platform<br>Based Development</div><div class="nr r1 m"><span>Theory:1</span><span>Mandatory</span></div><div class="nr r2 m"><span>Practice:2</span><span>3 CR</span></div><div class="nr r3 m"><span>Laboratory:2</span><span>Pg.</span></div></div>
<div class="n k2 cb" style="left:1300px;top:661.5px"><div class="nt">CS113. Computer<br>Science II</div><div class="nr r1 m"><span>Theory:2</span><span>Mandatory</span></div><div class="nr r2 m"><span>Practice:</span><span>4 CR</span></div><div class="nr r3 m"><span>Laboratory:4</span><span>Pg.</span></div></div>
<div class="n k2 cb" style="left:1699px;top:661.5px"><div class="nt">CS221. Computer<br>Systems Architecture</div><div class="nr r1 m"><span>Theory:2</span><span>Mandatory</span></div><div class="nr r2 m"><span>Practice:</span><span>3 CR</span></div><div class="nr r3 m"><span>Laboratory:2</span><span>Pg.</span></div></div>
<div class="n k1 cv" style="left:2443.7px;top:673.6px"><div class="nt">FG203. Oratory</div><div class="nr r1 o"><span>Theory:1</span><span>Mandatory</span></div><div class="nr r2 o"><span>Practice:2</span><span>2 CR</span></div><div class="nr r3 o"><span>Laboratory:</span><span>Pg.</span></div></div>
<div class="n k2 cb" style="left:1048px;top:842.5px"><div class="nt">CS271. Data<br>Management</div><div class="nr r1 m"><span>Theory:2</span><span>Mandatory</span></div><div class="nr r2 m"><span>Practice:</span><span>4 CR</span></div><div class="nr r3 m"><span>Laboratory:4</span><span>Pg.</span></div></div>
<div class="n k2 cb" style="left:1328px;top:842.5px"><div class="nt">CS210. Algorithms<br>and Data Structures</div><div class="nr r1 m"><span>Theory:2</span><span>Mandatory</span></div><div class="nr r2 m"><span>Practice:2</span><span>4 CR</span></div><div class="nr r3 m"><span>Laboratory:2</span><span>Pg.</span></div></div>
<div class="n k2 cb" style="left:1534.4px;top:842.5px"><div class="nt">CS211. Theory of<br>Computation</div><div class="nr r1 m"><span>Theory:2</span><span>Mandatory</span></div><div class="nr r2 m"><span>Practice:2</span><span>4 CR</span></div><div class="nr r3 m"><span>Laboratory:2</span><span>Pg.</span></div></div>
<div class="n k2 cb" style="left:1740.3px;top:842.5px"><div class="nt">CS2S1. Operating<br>systems</div><div class="nr r1 m"><span>Theory:2</span><span>Mandatory</span></div><div class="nr r2 m"><span>Practice:2</span><span>4 CR</span></div><div class="nr r3 m"><span>Laboratory:2</span><span>Pg.</span></div></div>
<div class="n k2 cg" style="left:2070.5px;top:842.5px"><div class="nt">MA203. Statistics<br>and Probabilities</div><div class="nr r1 m"><span>Theory:2</span><span>Mandatory</span></div><div class="nr r2 m"><span>Practice:2</span><span>4 CR</span></div><div class="nr r3 m"><span>Laboratory:2</span><span>Pg.</span></div></div>
<div class="n k2 cv" style="left:2443.7px;top:842.5px"><div class="nt">FG350. Leadership<br>and Performance</div><div class="nr r1 o"><span>Theory:2</span><span>Mandatory</span></div><div class="nr r2 o"><span>Practice:</span><span>2 CR</span></div><div class="nr r3 o"><span>Laboratory:</span><span>Pg.</span></div></div>
<div class="n k1 cb" style="left:700.7px;top:1036px"><div class="nt">CS272. Databases II</div><div class="nr r1 m"><span>Theory:1</span><span>Mandatory</span></div><div class="nr r2 m"><span>Practice:2</span><span>3 CR</span></div><div class="nr r3 m"><span>Laboratory:2</span><span>Pg.</span></div></div>
<div class="n k2 cb" style="left:1068px;top:1024px"><div class="nt">CS291. Software<br>Engineering I</div><div class="nr r1 m"><span>Theory:2</span><span>Mandatory</span></div><div class="nr r2 m"><span>Practice:2</span><span>4 CR</span></div><div class="nr r3 m"><span>Laboratory:2</span><span>Pg.</span></div></div>
<div class="n k2 cb" style="left:1395.7px;top:1024px"><div class="nt">CS212. Analysis and<br>Design of Algorithms</div><div class="nr r1 m"><span>Theory:2</span><span>Mandatory</span></div><div class="nr r2 m"><span>Practice:2</span><span>4 CR</span></div><div class="nr r3 m"><span>Laboratory:2</span><span>Pg.</span></div></div>
<div class="n k1 cb" style="left:1601px;top:1036px"><div class="nt">CS342. Compilers</div><div class="nr r1 m"><span>Theory:2</span><span>Mandatory</span></div><div class="nr r2 m"><span>Practice:2</span><span>4 CR</span></div><div class="nr r3 m"><span>Laboratory:2</span><span>Pg.</span></div></div>
<div class="n k2 cg" style="left:2319.5px;top:1024px"><div class="nt">CB111. Computational<br>Physics</div><div class="nr r1 m"><span>Theory:2</span><span>Mandatory</span></div><div class="nr r2 m"><span>Practice:2</span><span>4 CR</span></div><div class="nr r3 m"><span>Laboratory:2</span><span>Pg.</span></div></div>
<div class="n k2 cb" style="left:825px;top:1187.3px"><div class="nt">CS393. Information<br>systems</div><div class="nr r1 m"><span>Theory:2</span><span>Mandatory</span></div><div class="nr r2 m"><span>Practice:2</span><span>4 CR</span></div><div class="nr r3 m"><span>Laboratory:2</span><span>Pg.</span></div></div>
<div class="n k2 cb" style="left:1074px;top:1187.3px"><div class="nt">CS292. Software<br>Engineering II</div><div class="nr r1 m"><span>Theory:2</span><span>Mandatory</span></div><div class="nr r2 m"><span>Practice:2</span><span>4 CR</span></div><div class="nr r3 m"><span>Laboratory:2</span><span>Pg.</span></div></div>
<div class="n k2 cb" style="left:1395.7px;top:1187.3px"><div class="nt">CS311. Competitive<br>Programming</div><div class="nr r1 m"><span>Theory:2</span><span>Mandatory</span></div><div class="nr r2 m"><span>Practice:2</span><span>4 CR</span></div><div class="nr r3 m"><span>Laboratory:2</span><span>Pg.</span></div></div>
<div class="n k2 cb" style="left:1864.5px;top:1187.3px"><div class="nt">CS312. Advanced Data<br>Structures</div><div class="nr r1 m"><span>Theory:2</span><span>Mandatory</span></div><div class="nr r2 m"><span>Practice:2</span><span>4 CR</span></div><div class="nr r3 m"><span>Laboratory:2</span><span>Pg.</span></div></div>
<div class="n k2 cb" style="left:2070.5px;top:1187.3px"><div class="nt">CS261. Intelligent<br>Systems</div><div class="nr r1 m"><span>Theory:2</span><span>Mandatory</span></div><div class="nr r2 m"><span>Practice:2</span><span>4 CR</span></div><div class="nr r3 m"><span>Laboratory:2</span><span>Pg.</span></div></div>
<div class="n k2 cg" style="left:2277px;top:1187.3px"><div class="nt">MA307. Mathematics<br>applied to computing</div><div class="nr r1 m"><span>Theory:2</span><span>Mandatory</span></div><div class="nr r2 m"><span>Practice:2</span><span>4 CR</span></div><div class="nr r3 m"><span>Laboratory:2</span><span>Pg.</span></div></div>
<div class="n k2 cb" style="left:641px;top:1376.2px"><div class="nt">CS2H1. User<br>Experience (UX)</div><div class="nr r1 m"><span>Theory:1</span><span>Mandatory</span></div><div class="nr r2 m"><span>Practice:</span><span>3 CR</span></div><div class="nr r3 m"><span>Laboratory:4</span><span>Pg.</span></div></div>
<div class="n k2 cb" style="left:847.5px;top:1376.2px"><div class="nt">CS2T1. Computational<br>Biology</div><div class="nr r1 e"><span>Theory:2</span><span>Elective</span></div><div class="nr r2 e"><span>Practice:2</span><span>4 CR</span></div><div class="nr r3 e"><span>Laboratory:2</span><span>Pg.</span></div></div>
<div class="n k3 cb" style="left:1189.3px;top:1364px"><div class="nt">CS401. Methodology<br>of Computation<br>Research</div><div class="nr r1 o"><span>Theory:2</span><span>Mandatory</span></div><div class="nr r2 o"><span>Practice:2</span><span>3 CR</span></div><div class="nr r3 o"><span>Laboratory:</span><span>Pg.</span></div></div>
<div class="n k2 cb" style="left:1395.7px;top:1376.2px"><div class="nt">CS391. Software<br>Engineering III</div><div class="nr r1 o"><span>Theory:2</span><span>Mandatory</span></div><div class="nr r2 o"><span>Practice:2</span><span>3 CR</span></div><div class="nr r3 o"><span>Laboratory:</span><span>Pg.</span></div></div>
<div class="n k2 cb" style="left:1644px;top:1376.2px"><div class="nt">CS231. Networking<br>and Communication</div><div class="nr r1 m"><span>Theory:1</span><span>Mandatory</span></div><div class="nr r2 m"><span>Practice:2</span><span>3 CR</span></div><div class="nr r3 m"><span>Laboratory:2</span><span>Pg.</span></div></div>
<div class="n k2 cb" style="left:1892.6px;top:1376.2px"><div class="nt">CS251. Computer<br>graphics</div><div class="nr r1 e"><span>Theory:2</span><span>Elective</span></div><div class="nr r2 e"><span>Practice:2</span><span>4 CR</span></div><div class="nr r3 e"><span>Laboratory:2</span><span>Pg.</span></div></div>
<div class="n k2 cb" style="left:2098.6px;top:1376.2px"><div class="nt">CS262. Machine<br>learning</div><div class="nr r1 e"><span>Theory:2</span><span>Elective</span></div><div class="nr r2 e"><span>Practice:2</span><span>4 CR</span></div><div class="nr r3 e"><span>Laboratory:2</span><span>Pg.</span></div></div>
<div class="n k1 cb" style="left:406px;top:1655px"><div class="nt">CS371. Data Analysis</div><div class="nr r1 e"><span>Theory:1</span><span>Elective</span></div><div class="nr r2 e"><span>Practice:2</span><span>3 CR</span></div><div class="nr r3 e"><span>Laboratory:2</span><span>Pg.</span></div></div>
<div class="n k3 cb" style="left:637px;top:1631px"><div class="nt">CS3T1. Information<br>Processing in<br>Biological Cells</div><div class="nr r1 e"><span>Theory:2</span><span>Elective</span></div><div class="nr r2 e"><span>Practice:2</span><span>4 CR</span></div><div class="nr r3 e"><span>Laboratory:2</span><span>Pg.</span></div></div>
<div class="n k2 cb" style="left:843px;top:1643px"><div class="nt">CS3T2. Omic Data<br>Modeling</div><div class="nr r1 e"><span>Theory:2</span><span>Elective</span></div><div class="nr r2 e"><span>Practice:2</span><span>4 CR</span></div><div class="nr r3 e"><span>Laboratory:2</span><span>Pg.</span></div></div>
<div class="n k2 cb" style="left:1204px;top:1643px"><div class="nt">CS402. Capstone<br>Project I</div><div class="nr r1 o"><span>Theory:2</span><span>Mandatory</span></div><div class="nr r2 o"><span>Practice:2</span><span>3 CR</span></div><div class="nr r3 o"><span>Laboratory:</span><span>Pg.</span></div></div>
<div class="n k3 cb" style="left:1423.7px;top:1631px"><div class="nt">CS3P1. Parallel and<br>Distributed<br>Computing</div><div class="nr r1 m"><span>Theory:2</span><span>Mandatory</span></div><div class="nr r2 m"><span>Practice:2</span><span>4 CR</span></div><div class="nr r3 m"><span>Laboratory:2</span><span>Pg.</span></div></div>
<div class="n k2 cb" style="left:1671.7px;top:1643px"><div class="nt">CS3I1. Computer<br>Security</div><div class="nr r1 m"><span>Theory:1</span><span>Mandatory</span></div><div class="nr r2 m"><span>Practice:2</span><span>3 CR</span></div><div class="nr r3 m"><span>Laboratory:2</span><span>Pg.</span></div></div>
<div class="n k2 cb" style="left:2074px;top:1643px"><div class="nt">CS361. Computational<br>Vision</div><div class="nr r1 e"><span>Theory:2</span><span>Elective</span></div><div class="nr r2 e"><span>Practice:2</span><span>4 CR</span></div><div class="nr r3 e"><span>Laboratory:2</span><span>Pg.</span></div></div>
<div class="n k2 cr" style="left:2443.7px;top:1643px"><div class="nt">ET201.<br>Entrerpreneurship I</div><div class="nr r1 o"><span>Theory:2</span><span>Mandatory</span></div><div class="nr r2 o"><span>Practice:2</span><span>3 CR</span></div><div class="nr r3 o"><span>Laboratory:</span><span>Pg.</span></div></div>
<div class="n k2 cb" style="left:2650px;top:1643px"><div class="nt">CS281. Computing in<br>Society</div><div class="nr r1 o"><span>Theory:2</span><span>Mandatory</span></div><div class="nr r2 o"><span>Practice:</span><span>2 CR</span></div><div class="nr r3 o"><span>Laboratory:</span><span>Pg.</span></div></div>
<div class="n k2 cb" style="left:200px;top:1898px"><div class="nt">CS373. Data<br>Visualization</div><div class="nr r1 e"><span>Theory:1</span><span>Elective</span></div><div class="nr r2 e"><span>Practice:2</span><span>3 CR</span></div><div class="nr r3 e"><span>Laboratory:2</span><span>Pg.</span></div></div>
<div class="n k1 cb" style="left:406px;top:1910px"><div class="nt">CS372. Web mining</div><div class="nr r1 e"><span>Theory:1</span><span>Elective</span></div><div class="nr r2 e"><span>Practice:2</span><span>3 CR</span></div><div class="nr r3 e"><span>Laboratory:2</span><span>Pg.</span></div></div>
<div class="n k2 cb" style="left:637px;top:1898px"><div class="nt">CS3T4. Computational<br>Genetics</div><div class="nr r1 e"><span>Theory:2</span><span>Elective</span></div><div class="nr r2 e"><span>Practice:2</span><span>4 CR</span></div><div class="nr r3 e"><span>Laboratory:2</span><span>Pg.</span></div></div>
<div class="n k2 cb" style="left:843px;top:1898px"><div class="nt">CS3T3. Bioinformatic<br>Algorithms</div><div class="nr r1 e"><span>Theory:2</span><span>Elective</span></div><div class="nr r2 e"><span>Practice:2</span><span>4 CR</span></div><div class="nr r3 e"><span>Laboratory:2</span><span>Pg.</span></div></div>
<div class="n k1 cb" style="left:1056px;top:1910px"><div class="nt">CS370. Big Data</div><div class="nr r1 m"><span>Theory:1</span><span>Mandatory</span></div><div class="nr r2 m"><span>Practice:2</span><span>3 CR</span></div><div class="nr r3 m"><span>Laboratory:2</span><span>Pg.</span></div></div>
<div class="n k2 cb" style="left:1262px;top:1898px"><div class="nt">CS403. Final Project<br>II</div><div class="nr r1 o"><span>Theory:2</span><span>Mandatory</span></div><div class="nr r2 o"><span>Practice:2</span><span>3 CR</span></div><div class="nr r3 o"><span>Laboratory:</span><span>Pg.</span></div></div>
<div class="n k3 cb" style="left:1590px;top:1886px"><div class="nt">CS392. Tópicos en<br>Ingeniería de<br>Software</div><div class="nr r1 e"><span>Theory:2</span><span>Elective</span></div><div class="nr r2 e"><span>Practice:2</span><span>4 CR</span></div><div class="nr r3 e"><span>Laboratory:2</span><span>Pg.</span></div></div>
<div class="n k2 cb" style="left:1796px;top:1898px"><div class="nt">CS351. Topics in<br>Computer Graphics</div><div class="nr r1 e"><span>Theory:2</span><span>Elective</span></div><div class="nr r2 e"><span>Practice:2</span><span>4 CR</span></div><div class="nr r3 e"><span>Laboratory:2</span><span>Pg.</span></div></div>
<div class="n k2 cg" style="left:2026px;top:1898px"><div class="nt">CB309.<br>Bioinformatics</div><div class="nr r1 m"><span>Theory:1</span><span>Mandatory</span></div><div class="nr r2 m"><span>Practice:</span><span>2 CR</span></div><div class="nr r3 m"><span>Laboratory:2</span><span>Pg.</span></div></div>
<div class="n k2 cr" style="left:2443.7px;top:1898px"><div class="nt">ET301.<br>Entrerpreneurship II</div><div class="nr r1 o"><span>Theory:2</span><span>Mandatory</span></div><div class="nr r2 o"><span>Practice:2</span><span>3 CR</span></div><div class="nr r3 o"><span>Laboratory:</span><span>Pg.</span></div></div>
<div class="n k2 cb" style="left:2656.6px;top:1898px"><div class="nt">CS363. Learning by<br>Reinforcement</div><div class="nr r1 e"><span>Theory:2</span><span>Elective</span></div><div class="nr r2 e"><span>Practice:</span><span>4 CR</span></div><div class="nr r3 e"><span>Laboratory:4</span><span>Pg.</span></div></div>
<div class="n k2 cb" style="left:2862.4px;top:1898px"><div class="nt">CS362. Natural<br>Language Processing</div><div class="nr r1 e"><span>Theory:2</span><span>Elective</span></div><div class="nr r2 e"><span>Practice:</span><span>4 CR</span></div><div class="nr r3 e"><span>Laboratory:4</span><span>Pg.</span></div></div>
<div class="n k3 cb" style="left:200px;top:2116.7px"><div class="nt">CS379. Tópicos<br>Avanzados en Ciencia<br>de Datos</div><div class="nr r1 e"><span>Theory:1</span><span>Elective</span></div><div class="nr r2 e"><span>Practice:2</span><span>3 CR</span></div><div class="nr r3 e"><span>Laboratory:2</span><span>Pg.</span></div></div>
<div class="n k3 cb" style="left:406px;top:2116.7px"><div class="nt">CS374. Text<br>Processing for Data<br>Science</div><div class="nr r1 e"><span>Theory:1</span><span>Elective</span></div><div class="nr r2 e"><span>Practice:2</span><span>3 CR</span></div><div class="nr r3 e"><span>Laboratory:2</span><span>Pg.</span></div></div>
<div class="n k3 cb" style="left:637px;top:2116.7px"><div class="nt">CS3T9. Advanced<br>Topics in<br>Bioinformatics</div><div class="nr r1 e"><span>Theory:2</span><span>Elective</span></div><div class="nr r2 e"><span>Practice:2</span><span>4 CR</span></div><div class="nr r3 e"><span>Laboratory:2</span><span>Pg.</span></div></div>
<div class="n k3 cb" style="left:843px;top:2116.7px"><div class="nt">CS3T5. Modeling and<br>Simulation of<br>Biological Systems</div><div class="nr r1 e"><span>Theory:2</span><span>Elective</span></div><div class="nr r2 e"><span>Practice:2</span><span>4 CR</span></div><div class="nr r3 e"><span>Laboratory:2</span><span>Pg.</span></div></div>
<div class="n k2 cb" style="left:1056px;top:2128.7px"><div class="nt">CS3P2. Cloud<br>Computing</div><div class="nr r1 m"><span>Theory:1</span><span>Mandatory</span></div><div class="nr r2 m"><span>Practice:2</span><span>3 CR</span></div><div class="nr r3 m"><span>Laboratory:2</span><span>Pg.</span></div></div>
<div class="n k2 cb" style="left:1262px;top:2128.7px"><div class="nt">CS404. Final Project<br>III</div><div class="nr r1 o"><span>Theory:2</span><span>Mandatory</span></div><div class="nr r2 o"><span>Practice:8</span><span>6 CR</span></div><div class="nr r3 o"><span>Laboratory:</span><span>Pg.</span></div></div>
<div class="n k2 cb" style="left:1468px;top:2128.7px"><div class="nt">CS3P3. Internet of<br>Things</div><div class="nr r1 m"><span>Theory:1</span><span>Mandatory</span></div><div class="nr r2 m"><span>Practice:2</span><span>3 CR</span></div><div class="nr r3 m"><span>Laboratory:2</span><span>Pg.</span></div></div>
<div class="n k2 cb" style="left:2198px;top:2128.7px"><div class="nt">CS365. Evolutionary<br>Computing</div><div class="nr r1 m"><span>Theory:2</span><span>Mandatory</span></div><div class="nr r2 m"><span>Practice:2</span><span>4 CR</span></div><div class="nr r3 m"><span>Laboratory:2</span><span>Pg.</span></div></div>
<div class="n k3 cr" style="left:2443.7px;top:2116.7px"><div class="nt">ET302.<br>Entrerpreneurship<br>III</div><div class="nr r1 o"><span>Theory:2</span><span>Mandatory</span></div><div class="nr r2 o"><span>Practice:2</span><span>3 CR</span></div><div class="nr r3 o"><span>Laboratory:</span><span>Pg.</span></div></div>
<div class="n k3 cb" style="left:2656.6px;top:2116.7px"><div class="nt">CS369. Topics in<br>Artificial<br>Intelligence</div><div class="nr r1 e"><span>Theory:2</span><span>Elective</span></div><div class="nr r2 e"><span>Practice:2</span><span>4 CR</span></div><div class="nr r3 e"><span>Laboratory:2</span><span>Pg.</span></div></div>
<div class="n k2 cb" style="left:2862.4px;top:2128.7px"><div class="nt">CS364. Cognitive<br>Computing</div><div class="nr r1 e"><span>Theory:2</span><span>Elective</span></div><div class="nr r2 e"><span>Practice:</span><span>4 CR</span></div><div class="nr r3 e"><span>Laboratory:4</span><span>Pg.</span></div></div>
<div class="n k2 cv" style="left:3075.5px;top:2128.7px"><div class="nt">FG211. Professional<br>Ethics</div><div class="nr r1 o"><span>Theory:2</span><span>Mandatory</span></div><div class="nr r2 o"><span>Practice:2</span><span>3 CR</span></div><div class="nr r3 o"><span>Laboratory:</span><span>Pg.</span></div></div>
<div class="n k1 cb" style="left:3281.5px;top:2141px"><div class="nt">CS366. Robotics</div><div class="nr r1 e"><span>Theory:2</span><span>Elective</span></div><div class="nr r2 e"><span>Practice:</span><span>4 CR</span></div><div class="nr r3 e"><span>Laboratory:4</span><span>Pg.</span></div></div>
<div style="position:absolute;left:3570px;top:0;width:912px;height:2752px;background:#4b6e8c"></div>
<div style="position:absolute;left:3642px;top:29px;width:757.6px;height:596.6px;box-sizing:border-box;border:1.2px solid #111;border-radius:14px;background:#fff;box-shadow:3px 3px 0 0 #444,6px 6px 0 0 #8a8a8a,9px 9px 1px 0 #d8d8d8;"></div>
<svg style="position:absolute;left:3642px;top:29px" width="757.6" height="596.6" viewBox="0 0 757.6 596.6" font-family="Liberation Serif,serif"><defs><clipPath id="c3671"><rect x="2" y="7" width="753.6" height="587.6"/></clipPath></defs><rect x="82.6" y="46.6" width="647.4" height="347.4" fill="#555"/><rect x="76.6" y="40.6" width="647.4" height="347.4" fill="#fff" stroke="#000" stroke-width="2"/><path d="M145,40.6 V388 M214.9,40.6 V388 M284.7,40.6 V388 M354.6,40.6 V388 M424.5,40.6 V388 M494.4,40.6 V388 M564.2,40.6 V388 M634.1,40.6 V388 M704,40.6 V388 M76.6,318.5 H724 M76.6,249 H724 M76.6,179.6 H724 M76.6,110.1 H724 " fill="none" stroke="#c4c4c4" stroke-width="1.2" stroke-dasharray="1.5 3"/><polygon points="145,279.6 214.9,103.8 284.7,279.6 354.6,350.5 424.5,306 494.4,361.6 564.2,388 634.1,388 704,388 704,388 634.1,388 564.2,388 494.4,367.2 424.5,350.5 354.6,378.3 284.7,317.8 214.9,247 145,350.5" fill="#ff0"/><polyline points="145,279.6 214.9,103.8 284.7,279.6 354.6,350.5 424.5,306 494.4,361.6 564.2,388 634.1,388 704,388" fill="none" stroke="#00f" stroke-width="2.1" stroke-dasharray="11 7" clip-path="url(#c3671)"/><circle cx="145" cy="279.6" r="5.2" fill="#00f"/><circle cx="214.9" cy="103.8" r="5.2" fill="#00f"/><circle cx="284.7" cy="279.6" r="5.2" fill="#00f"/><circle cx="354.6" cy="350.5" r="5.2" fill="#00f"/><circle cx="424.5" cy="306" r="5.2" fill="#00f"/><circle cx="494.4" cy="361.6" r="5.2" fill="#00f"/><circle cx="564.2" cy="388" r="5.2" fill="#00f"/><circle cx="634.1" cy="388" r="5.2" fill="#00f"/><circle cx="704" cy="388" r="5.2" fill="#00f"/><polyline points="145,344.2 214.9,-161.6 284.7,269.2 354.6,368.5 424.5,322 494.4,307.4 564.2,335.9 634.1,352.6 704,335.9" fill="none" stroke="#000" stroke-width="2.1" clip-path="url(#c3671)"/><circle cx="145" cy="344.2" r="5.2" fill="#000"/><circle cx="284.7" cy="269.2" r="5.2" fill="#000"/><circle cx="354.6" cy="368.5" r="5.2" fill="#000"/><circle cx="424.5" cy="322" r="5.2" fill="#000"/><circle cx="494.4" cy="307.4" r="5.2" fill="#000"/><circle cx="564.2" cy="335.9" r="5.2" fill="#000"/><circle cx="634.1" cy="352.6" r="5.2" fill="#000"/><circle cx="704" cy="335.9" r="5.2" fill="#000"/><polyline points="145,350.5 214.9,247 284.7,317.8 354.6,378.3 424.5,350.5 494.4,367.2 564.2,388 634.1,388 704,388" fill="none" stroke="#f00" stroke-width="2.1" stroke-dasharray="11 7" clip-path="url(#c3671)"/><circle cx="145" cy="350.5" r="5.2" fill="#f00"/><circle cx="214.9" cy="247" r="5.2" fill="#f00"/><circle cx="284.7" cy="317.8" r="5.2" fill="#f00"/><circle cx="354.6" cy="378.3" r="5.2" fill="#f00"/><circle cx="424.5" cy="350.5" r="5.2" fill="#f00"/><circle cx="494.4" cy="367.2" r="5.2" fill="#f00"/><circle cx="564.2" cy="388" r="5.2" fill="#f00"/><circle cx="634.1" cy="388" r="5.2" fill="#f00"/><circle cx="704" cy="388" r="5.2" fill="#f00"/><text x="72.6" y="326.8" font-size="23.5" text-anchor="end">10 %</text><text x="72.6" y="257.3" font-size="23.5" text-anchor="end">20 %</text><text x="72.6" y="187.9" font-size="23.5" text-anchor="end">30 %</text><text x="72.6" y="118.4" font-size="23.5" text-anchor="end">40 %</text><text x="72.6" y="48.9" font-size="23.5" text-anchor="end">50 %</text><text transform="translate(141.3,405) rotate(-90)" font-size="29" text-anchor="end">Hardware and</text><text transform="translate(169.3,405) rotate(-90)" font-size="29" text-anchor="end">Architecture</text><text transform="translate(211.2,405) rotate(-90)" font-size="29" text-anchor="end">Computer</text><text transform="translate(239.2,405) rotate(-90)" font-size="29" text-anchor="end">Science</text><text transform="translate(281,405) rotate(-90)" font-size="29" text-anchor="end">Software</text><text transform="translate(309,405) rotate(-90)" font-size="29" text-anchor="end">Engineering</text><text transform="translate(350.9,405) rotate(-90)" font-size="29" text-anchor="end">Information</text><text transform="translate(378.9,405) rotate(-90)" font-size="29" text-anchor="end">Systems</text><text transform="translate(420.8,405) rotate(-90)" font-size="29" text-anchor="end">Information</text><text transform="translate(448.8,405) rotate(-90)" font-size="29" text-anchor="end">Technology</text><text transform="translate(490.7,405) rotate(-90)" font-size="29" text-anchor="end">Mathematics</text><text transform="translate(518.7,405) rotate(-90)" font-size="29" text-anchor="end">for Computing</text><text transform="translate(560.5,405) rotate(-90)" font-size="29" text-anchor="end">Basic</text><text transform="translate(588.5,405) rotate(-90)" font-size="29" text-anchor="end">Sciences</text><text transform="translate(643.4,405) rotate(-90)" font-size="29" text-anchor="end">Business</text><text transform="translate(700.3,405) rotate(-90)" font-size="29" text-anchor="end">General</text><text transform="translate(728.3,405) rotate(-90)" font-size="29" text-anchor="end">Knowledge</text><rect x="508" y="61" width="201" height="102" fill="#555"/><rect x="502" y="55" width="201" height="102" fill="#fff" stroke="#000" stroke-width="2"/><line x1="509" y1="74.6" x2="571.5" y2="74.6" stroke="#00f" stroke-width="2.1" stroke-dasharray="10 7.4"/><text x="572" y="83.2" font-size="28.5">CS Max</text><line x1="509" y1="103.1" x2="571.5" y2="103.1" stroke="#000" stroke-width="2.1"/><text x="572" y="111.7" font-size="28.5">CS-SVC</text><line x1="509" y1="131.6" x2="571.5" y2="131.6" stroke="#f00" stroke-width="2.1" stroke-dasharray="10 7.4"/><text x="572" y="140.2" font-size="28.5">CS Min</text></svg>
<div class="t b" style="top:646.7px;font-size:23px;left:3850.8px;color:#fff;letter-spacing:0.56px;">CS (SVC) vs CS (ACM/IEEE-CS)</div>
<div style="position:absolute;left:3584px;top:677.3px;width:884px;height:2.4px;background:#fff"></div>
<div style="position:absolute;left:3600px;top:688px;width:405.4px;height:315.7px;box-sizing:border-box;border:1.2px solid #111;border-radius:11px;background:#fff;box-shadow:3px 3px 0 0 #444,6px 6px 0 0 #8a8a8a,9px 9px 1px 0 #d8d8d8;"></div>
<svg style="position:absolute;left:3600px;top:688px" width="405.4" height="315.7" viewBox="0 0 405.4 315.7" font-family="Liberation Serif,serif"><defs><clipPath id="c4288"><rect x="2" y="7" width="401.4" height="306.7"/></clipPath></defs><rect x="54" y="32" width="323.7" height="173.7" fill="#555"/><rect x="51" y="29" width="323.7" height="173.7" fill="#fff" stroke="#000" stroke-width="1.2"/><path d="M85.2,29 V202.7 M120.1,29 V202.7 M155.1,29 V202.7 M190,29 V202.7 M224.9,29 V202.7 M259.9,29 V202.7 M294.8,29 V202.7 M329.8,29 V202.7 M364.7,29 V202.7 M51,168 H374.7 M51,133.2 H374.7 M51,98.5 H374.7 M51,63.7 H374.7 " fill="none" stroke="#dcdcdc" stroke-width="0.7" stroke-dasharray="0.8 1.5"/><polygon points="85.2,86.3 120.1,118.6 155.1,139.8 190,191.2 224.9,165.5 259.9,191.2 294.8,202.7 329.8,202.7 364.7,202.7 364.7,202.7 329.8,202.7 294.8,202.7 259.9,191.2 224.9,189.2 190,197.8 155.1,172.8 120.1,162.7 85.2,113.8" fill="#ff0"/><polyline points="85.2,86.3 120.1,118.6 155.1,139.8 190,191.2 224.9,165.5 259.9,191.2 294.8,202.7 329.8,202.7 364.7,202.7" fill="none" stroke="#00f" stroke-width="1.1" stroke-dasharray="7.4 4.6" clip-path="url(#c4288)"/><circle cx="85.2" cy="86.3" r="2.7" fill="#00f"/><circle cx="120.1" cy="118.6" r="2.7" fill="#00f"/><circle cx="155.1" cy="139.8" r="2.7" fill="#00f"/><circle cx="190" cy="191.2" r="2.7" fill="#00f"/><circle cx="224.9" cy="165.5" r="2.7" fill="#00f"/><circle cx="259.9" cy="191.2" r="2.7" fill="#00f"/><circle cx="294.8" cy="202.7" r="2.7" fill="#00f"/><circle cx="329.8" cy="202.7" r="2.7" fill="#00f"/><circle cx="364.7" cy="202.7" r="2.7" fill="#00f"/><polyline points="85.2,180.8 120.1,-72.1 155.1,143.3 190,193 224.9,169.7 259.9,162.4 294.8,176.6 329.8,185 364.7,176.6" fill="none" stroke="#000" stroke-width="1.1" clip-path="url(#c4288)"/><circle cx="85.2" cy="180.8" r="2.7" fill="#000"/><circle cx="155.1" cy="143.3" r="2.7" fill="#000"/><circle cx="190" cy="193" r="2.7" fill="#000"/><circle cx="224.9" cy="169.7" r="2.7" fill="#000"/><circle cx="259.9" cy="162.4" r="2.7" fill="#000"/><circle cx="294.8" cy="176.6" r="2.7" fill="#000"/><circle cx="329.8" cy="185" r="2.7" fill="#000"/><circle cx="364.7" cy="176.6" r="2.7" fill="#000"/><polyline points="85.2,113.8 120.1,162.7 155.1,172.8 190,197.8 224.9,189.2 259.9,191.2 294.8,202.7 329.8,202.7 364.7,202.7" fill="none" stroke="#f00" stroke-width="1.1" stroke-dasharray="7.4 4.6" clip-path="url(#c4288)"/><circle cx="85.2" cy="113.8" r="2.7" fill="#f00"/><circle cx="120.1" cy="162.7" r="2.7" fill="#f00"/><circle cx="155.1" cy="172.8" r="2.7" fill="#f00"/><circle cx="190" cy="197.8" r="2.7" fill="#f00"/><circle cx="224.9" cy="189.2" r="2.7" fill="#f00"/><circle cx="259.9" cy="191.2" r="2.7" fill="#f00"/><circle cx="294.8" cy="202.7" r="2.7" fill="#f00"/><circle cx="329.8" cy="202.7" r="2.7" fill="#f00"/><circle cx="364.7" cy="202.7" r="2.7" fill="#f00"/><text x="48.8" y="172.1" font-size="11.8" text-anchor="end">10 %</text><text x="48.8" y="137.4" font-size="11.8" text-anchor="end">20 %</text><text x="48.8" y="102.6" font-size="11.8" text-anchor="end">30 %</text><text x="48.8" y="67.9" font-size="11.8" text-anchor="end">40 %</text><text x="48.8" y="33.1" font-size="11.8" text-anchor="end">50 %</text><text transform="translate(83.4,211.2) rotate(-90)" font-size="14.5" text-anchor="end">Hardware and</text><text transform="translate(97.4,211.2) rotate(-90)" font-size="14.5" text-anchor="end">Architecture</text><text transform="translate(118.3,211.2) rotate(-90)" font-size="14.5" text-anchor="end">Computer</text><text transform="translate(132.3,211.2) rotate(-90)" font-size="14.5" text-anchor="end">Science</text><text transform="translate(153.2,211.2) rotate(-90)" font-size="14.5" text-anchor="end">Software</text><text transform="translate(167.2,211.2) rotate(-90)" font-size="14.5" text-anchor="end">Engineering</text><text transform="translate(188.2,211.2) rotate(-90)" font-size="14.5" text-anchor="end">Information</text><text transform="translate(202.2,211.2) rotate(-90)" font-size="14.5" text-anchor="end">Systems</text><text transform="translate(223.1,211.2) rotate(-90)" font-size="14.5" text-anchor="end">Information</text><text transform="translate(237.1,211.2) rotate(-90)" font-size="14.5" text-anchor="end">Technology</text><text transform="translate(258,211.2) rotate(-90)" font-size="14.5" text-anchor="end">Mathematics</text><text transform="translate(272,211.2) rotate(-90)" font-size="14.5" text-anchor="end">for Computing</text><text transform="translate(293,211.2) rotate(-90)" font-size="14.5" text-anchor="end">Basic</text><text transform="translate(307,211.2) rotate(-90)" font-size="14.5" text-anchor="end">Sciences</text><text transform="translate(334.4,211.2) rotate(-90)" font-size="14.5" text-anchor="end">Business</text><text transform="translate(362.8,211.2) rotate(-90)" font-size="14.5" text-anchor="end">General</text><text transform="translate(376.8,211.2) rotate(-90)" font-size="14.5" text-anchor="end">Knowledge</text><rect x="266.7" y="39.2" width="100.5" height="51" fill="#555"/><rect x="263.7" y="36.2" width="100.5" height="51" fill="#fff" stroke="#000" stroke-width="1.2"/><line x1="267.2" y1="46" x2="298.4" y2="46" stroke="#00f" stroke-width="1.1" stroke-dasharray="7.4 4.6"/><text x="298.7" y="50.3" font-size="14.2">CE Max</text><line x1="267.2" y1="60.2" x2="298.4" y2="60.2" stroke="#000" stroke-width="1.1"/><text x="298.7" y="64.5" font-size="14.2">CS-SVC</text><line x1="267.2" y1="74.5" x2="298.4" y2="74.5" stroke="#f00" stroke-width="1.1" stroke-dasharray="7.4 4.6"/><text x="298.7" y="78.8" font-size="14.2">CE Min</text></svg>
<div style="position:absolute;left:4026px;top:688px;width:406px;height:315.7px;box-sizing:border-box;border:1.2px solid #111;border-radius:11px;background:#fff;box-shadow:3px 3px 0 0 #444,6px 6px 0 0 #8a8a8a,9px 9px 1px 0 #d8d8d8;"></div>
<svg style="position:absolute;left:4026px;top:688px" width="406" height="315.7" viewBox="0 0 406 315.7" font-family="Liberation Serif,serif"><defs><clipPath id="c4714"><rect x="2" y="7" width="402" height="306.7"/></clipPath></defs><rect x="54" y="32" width="323.7" height="173.7" fill="#555"/><rect x="51" y="29" width="323.7" height="173.7" fill="#fff" stroke="#000" stroke-width="1.2"/><path d="M85.2,29 V202.7 M120.1,29 V202.7 M155.1,29 V202.7 M190,29 V202.7 M224.9,29 V202.7 M259.9,29 V202.7 M294.8,29 V202.7 M329.8,29 V202.7 M364.7,29 V202.7 M51,168 H374.7 M51,133.2 H374.7 M51,98.5 H374.7 M51,63.7 H374.7 " fill="none" stroke="#dcdcdc" stroke-width="0.7" stroke-dasharray="0.8 1.5"/><polygon points="85.2,183.9 120.1,139.1 155.1,144 190,152.3 224.9,144.3 259.9,192.6 294.8,202.7 329.8,202.7 364.7,202.7 364.7,202.7 329.8,202.7 294.8,202.7 259.9,197.5 224.9,179.1 190,154.4 155.1,165.5 120.1,171.1 85.2,192.6" fill="#ff0"/><polyline points="85.2,183.9 120.1,139.1 155.1,144 190,152.3 224.9,144.3 259.9,192.6 294.8,202.7 329.8,202.7 364.7,202.7" fill="none" stroke="#00f" stroke-width="1.1" stroke-dasharray="7.4 4.6" clip-path="url(#c4714)"/><circle cx="85.2" cy="183.9" r="2.7" fill="#00f"/><circle cx="120.1" cy="139.1" r="2.7" fill="#00f"/><circle cx="155.1" cy="144" r="2.7" fill="#00f"/><circle cx="190" cy="152.3" r="2.7" fill="#00f"/><circle cx="224.9" cy="144.3" r="2.7" fill="#00f"/><circle cx="259.9" cy="192.6" r="2.7" fill="#00f"/><circle cx="294.8" cy="202.7" r="2.7" fill="#00f"/><circle cx="329.8" cy="202.7" r="2.7" fill="#00f"/><circle cx="364.7" cy="202.7" r="2.7" fill="#00f"/><polyline points="85.2,180.8 120.1,-72.1 155.1,143.3 190,193 224.9,169.7 259.9,162.4 294.8,176.6 329.8,185 364.7,176.6" fill="none" stroke="#000" stroke-width="1.1" clip-path="url(#c4714)"/><circle cx="85.2" cy="180.8" r="2.7" fill="#000"/><circle cx="155.1" cy="143.3" r="2.7" fill="#000"/><circle cx="190" cy="193" r="2.7" fill="#000"/><circle cx="224.9" cy="169.7" r="2.7" fill="#000"/><circle cx="259.9" cy="162.4" r="2.7" fill="#000"/><circle cx="294.8" cy="176.6" r="2.7" fill="#000"/><circle cx="329.8" cy="185" r="2.7" fill="#000"/><circle cx="364.7" cy="176.6" r="2.7" fill="#000"/><polyline points="85.2,192.6 120.1,171.1 155.1,165.5 190,154.4 224.9,179.1 259.9,197.5 294.8,202.7 329.8,202.7 364.7,202.7" fill="none" stroke="#f00" stroke-width="1.1" stroke-dasharray="7.4 4.6" clip-path="url(#c4714)"/><circle cx="85.2" cy="192.6" r="2.7" fill="#f00"/><circle cx="120.1" cy="171.1" r="2.7" fill="#f00"/><circle cx="155.1" cy="165.5" r="2.7" fill="#f00"/><circle cx="190" cy="154.4" r="2.7" fill="#f00"/><circle cx="224.9" cy="179.1" r="2.7" fill="#f00"/><circle cx="259.9" cy="197.5" r="2.7" fill="#f00"/><circle cx="294.8" cy="202.7" r="2.7" fill="#f00"/><circle cx="329.8" cy="202.7" r="2.7" fill="#f00"/><circle cx="364.7" cy="202.7" r="2.7" fill="#f00"/><text x="48.8" y="172.1" font-size="11.8" text-anchor="end">10 %</text><text x="48.8" y="137.4" font-size="11.8" text-anchor="end">20 %</text><text x="48.8" y="102.6" font-size="11.8" text-anchor="end">30 %</text><text x="48.8" y="67.9" font-size="11.8" text-anchor="end">40 %</text><text x="48.8" y="33.1" font-size="11.8" text-anchor="end">50 %</text><text transform="translate(83.4,211.2) rotate(-90)" font-size="14.5" text-anchor="end">Hardware and</text><text transform="translate(97.4,211.2) rotate(-90)" font-size="14.5" text-anchor="end">Architecture</text><text transform="translate(118.3,211.2) rotate(-90)" font-size="14.5" text-anchor="end">Computer</text><text transform="translate(132.3,211.2) rotate(-90)" font-size="14.5" text-anchor="end">Science</text><text transform="translate(153.2,211.2) rotate(-90)" font-size="14.5" text-anchor="end">Software</text><text transform="translate(167.2,211.2) rotate(-90)" font-size="14.5" text-anchor="end">Engineering</text><text transform="translate(188.2,211.2) rotate(-90)" font-size="14.5" text-anchor="end">Information</text><text transform="translate(202.2,211.2) rotate(-90)" font-size="14.5" text-anchor="end">Systems</text><text transform="translate(223.1,211.2) rotate(-90)" font-size="14.5" text-anchor="end">Information</text><text transform="translate(237.1,211.2) rotate(-90)" font-size="14.5" text-anchor="end">Technology</text><text transform="translate(258,211.2) rotate(-90)" font-size="14.5" text-anchor="end">Mathematics</text><text transform="translate(272,211.2) rotate(-90)" font-size="14.5" text-anchor="end">for Computing</text><text transform="translate(293,211.2) rotate(-90)" font-size="14.5" text-anchor="end">Basic</text><text transform="translate(307,211.2) rotate(-90)" font-size="14.5" text-anchor="end">Sciences</text><text transform="translate(334.4,211.2) rotate(-90)" font-size="14.5" text-anchor="end">Business</text><text transform="translate(362.8,211.2) rotate(-90)" font-size="14.5" text-anchor="end">General</text><text transform="translate(376.8,211.2) rotate(-90)" font-size="14.5" text-anchor="end">Knowledge</text><rect x="266.7" y="39.2" width="100.5" height="51" fill="#555"/><rect x="263.7" y="36.2" width="100.5" height="51" fill="#fff" stroke="#000" stroke-width="1.2"/><line x1="267.2" y1="46" x2="298.4" y2="46" stroke="#00f" stroke-width="1.1" stroke-dasharray="7.4 4.6"/><text x="298.7" y="50.3" font-size="14.2">IS Max</text><line x1="267.2" y1="60.2" x2="298.4" y2="60.2" stroke="#000" stroke-width="1.1"/><text x="298.7" y="64.5" font-size="14.2">CS-SVC</text><line x1="267.2" y1="74.5" x2="298.4" y2="74.5" stroke="#f00" stroke-width="1.1" stroke-dasharray="7.4 4.6"/><text x="298.7" y="78.8" font-size="14.2">IS Min</text></svg>
<div class="t b" style="top:1023.7px;font-size:23px;left:3637.1px;color:#fff;letter-spacing:0.56px;">CS (SVC) vs CE (ACM/IEEE-CS)</div>
<div class="t b" style="top:1023.7px;font-size:23.1px;left:4067.5px;color:#fff;letter-spacing:0.55px;">CS (SVC) vs IS (ACM/IEEE-CS)</div>
<div style="position:absolute;left:3584px;top:1052.8px;width:884px;height:2.4px;background:#fff"></div>
<div style="position:absolute;left:3600px;top:1063px;width:405.4px;height:315.3px;box-sizing:border-box;border:1.2px solid #111;border-radius:11px;background:#fff;box-shadow:3px 3px 0 0 #444,6px 6px 0 0 #8a8a8a,9px 9px 1px 0 #d8d8d8;"></div>
<svg style="position:absolute;left:3600px;top:1063px" width="405.4" height="315.3" viewBox="0 0 405.4 315.3" font-family="Liberation Serif,serif"><defs><clipPath id="c4663"><rect x="2" y="7" width="401.4" height="306.3"/></clipPath></defs><rect x="54" y="31.7" width="323.7" height="173.7" fill="#555"/><rect x="51" y="28.7" width="323.7" height="173.7" fill="#fff" stroke="#000" stroke-width="1.2"/><path d="M85.2,28.7 V202.4 M120.1,28.7 V202.4 M155.1,28.7 V202.4 M190,28.7 V202.4 M224.9,28.7 V202.4 M259.9,28.7 V202.4 M294.8,28.7 V202.4 M329.8,28.7 V202.4 M364.7,28.7 V202.4 M51,167.7 H374.7 M51,132.9 H374.7 M51,98.2 H374.7 M51,63.4 H374.7 " fill="none" stroke="#dcdcdc" stroke-width="0.7" stroke-dasharray="0.8 1.5"/><polygon points="85.2,152 120.1,113.1 155.1,105.8 190,170.8 224.9,161.8 259.9,189.9 294.8,202.4 329.8,202.4 364.7,202.4 364.7,202.4 329.8,202.4 294.8,202.4 259.9,192.7 224.9,185.7 190,190.9 155.1,134.7 120.1,147.2 85.2,180.9" fill="#ff0"/><polyline points="85.2,152 120.1,113.1 155.1,105.8 190,170.8 224.9,161.8 259.9,189.9 294.8,202.4 329.8,202.4 364.7,202.4" fill="none" stroke="#00f" stroke-width="1.1" stroke-dasharray="7.4 4.6" clip-path="url(#c4663)"/><circle cx="85.2" cy="152" r="2.7" fill="#00f"/><circle cx="120.1" cy="113.1" r="2.7" fill="#00f"/><circle cx="155.1" cy="105.8" r="2.7" fill="#00f"/><circle cx="190" cy="170.8" r="2.7" fill="#00f"/><circle cx="224.9" cy="161.8" r="2.7" fill="#00f"/><circle cx="259.9" cy="189.9" r="2.7" fill="#00f"/><circle cx="294.8" cy="202.4" r="2.7" fill="#00f"/><circle cx="329.8" cy="202.4" r="2.7" fill="#00f"/><circle cx="364.7" cy="202.4" r="2.7" fill="#00f"/><polyline points="85.2,180.5 120.1,-72.4 155.1,143 190,192.7 224.9,169.4 259.9,162.1 294.8,176.3 329.8,184.7 364.7,176.3" fill="none" stroke="#000" stroke-width="1.1" clip-path="url(#c4663)"/><circle cx="85.2" cy="180.5" r="2.7" fill="#000"/><circle cx="155.1" cy="143" r="2.7" fill="#000"/><circle cx="190" cy="192.7" r="2.7" fill="#000"/><circle cx="224.9" cy="169.4" r="2.7" fill="#000"/><circle cx="259.9" cy="162.1" r="2.7" fill="#000"/><circle cx="294.8" cy="176.3" r="2.7" fill="#000"/><circle cx="329.8" cy="184.7" r="2.7" fill="#000"/><circle cx="364.7" cy="176.3" r="2.7" fill="#000"/><polyline points="85.2,180.9 120.1,147.2 155.1,134.7 190,190.9 224.9,185.7 259.9,192.7 294.8,202.4 329.8,202.4 364.7,202.4" fill="none" stroke="#f00" stroke-width="1.1" stroke-dasharray="7.4 4.6" clip-path="url(#c4663)"/><circle cx="85.2" cy="180.9" r="2.7" fill="#f00"/><circle cx="120.1" cy="147.2" r="2.7" fill="#f00"/><circle cx="155.1" cy="134.7" r="2.7" fill="#f00"/><circle cx="190" cy="190.9" r="2.7" fill="#f00"/><circle cx="224.9" cy="185.7" r="2.7" fill="#f00"/><circle cx="259.9" cy="192.7" r="2.7" fill="#f00"/><circle cx="294.8" cy="202.4" r="2.7" fill="#f00"/><circle cx="329.8" cy="202.4" r="2.7" fill="#f00"/><circle cx="364.7" cy="202.4" r="2.7" fill="#f00"/><text x="48.8" y="171.8" font-size="11.8" text-anchor="end">10 %</text><text x="48.8" y="137.1" font-size="11.8" text-anchor="end">20 %</text><text x="48.8" y="102.3" font-size="11.8" text-anchor="end">30 %</text><text x="48.8" y="67.6" font-size="11.8" text-anchor="end">40 %</text><text x="48.8" y="32.9" font-size="11.8" text-anchor="end">50 %</text><text transform="translate(83.4,210.9) rotate(-90)" font-size="14.5" text-anchor="end">Hardware and</text><text transform="translate(97.4,210.9) rotate(-90)" font-size="14.5" text-anchor="end">Architecture</text><text transform="translate(118.3,210.9) rotate(-90)" font-size="14.5" text-anchor="end">Computer</text><text transform="translate(132.3,210.9) rotate(-90)" font-size="14.5" text-anchor="end">Science</text><text transform="translate(153.2,210.9) rotate(-90)" font-size="14.5" text-anchor="end">Software</text><text transform="translate(167.2,210.9) rotate(-90)" font-size="14.5" text-anchor="end">Engineering</text><text transform="translate(188.2,210.9) rotate(-90)" font-size="14.5" text-anchor="end">Information</text><text transform="translate(202.2,210.9) rotate(-90)" font-size="14.5" text-anchor="end">Systems</text><text transform="translate(223.1,210.9) rotate(-90)" font-size="14.5" text-anchor="end">Information</text><text transform="translate(237.1,210.9) rotate(-90)" font-size="14.5" text-anchor="end">Technology</text><text transform="translate(258,210.9) rotate(-90)" font-size="14.5" text-anchor="end">Mathematics</text><text transform="translate(272,210.9) rotate(-90)" font-size="14.5" text-anchor="end">for Computing</text><text transform="translate(293,210.9) rotate(-90)" font-size="14.5" text-anchor="end">Basic</text><text transform="translate(307,210.9) rotate(-90)" font-size="14.5" text-anchor="end">Sciences</text><text transform="translate(334.4,210.9) rotate(-90)" font-size="14.5" text-anchor="end">Business</text><text transform="translate(362.8,210.9) rotate(-90)" font-size="14.5" text-anchor="end">General</text><text transform="translate(376.8,210.9) rotate(-90)" font-size="14.5" text-anchor="end">Knowledge</text><rect x="266.7" y="38.9" width="100.5" height="51" fill="#555"/><rect x="263.7" y="35.9" width="100.5" height="51" fill="#fff" stroke="#000" stroke-width="1.2"/><line x1="267.2" y1="45.7" x2="298.4" y2="45.7" stroke="#00f" stroke-width="1.1" stroke-dasharray="7.4 4.6"/><text x="298.7" y="50" font-size="14.2">SE Max</text><line x1="267.2" y1="60" x2="298.4" y2="60" stroke="#000" stroke-width="1.1"/><text x="298.7" y="64.3" font-size="14.2">CS-SVC</text><line x1="267.2" y1="74.2" x2="298.4" y2="74.2" stroke="#f00" stroke-width="1.1" stroke-dasharray="7.4 4.6"/><text x="298.7" y="78.5" font-size="14.2">SE Min</text></svg>
<div style="position:absolute;left:4026px;top:1063px;width:406px;height:315.3px;box-sizing:border-box;border:1.2px solid #111;border-radius:11px;background:#fff;box-shadow:3px 3px 0 0 #444,6px 6px 0 0 #8a8a8a,9px 9px 1px 0 #d8d8d8;"></div>
<svg style="position:absolute;left:4026px;top:1063px" width="406" height="315.3" viewBox="0 0 406 315.3" font-family="Liberation Serif,serif"><defs><clipPath id="c5089"><rect x="2" y="7" width="402" height="306.3"/></clipPath></defs><rect x="54" y="31.7" width="323.7" height="173.7" fill="#555"/><rect x="51" y="28.7" width="323.7" height="173.7" fill="#fff" stroke="#000" stroke-width="1.2"/><path d="M85.2,28.7 V202.4 M120.1,28.7 V202.4 M155.1,28.7 V202.4 M190,28.7 V202.4 M224.9,28.7 V202.4 M259.9,28.7 V202.4 M294.8,28.7 V202.4 M329.8,28.7 V202.4 M364.7,28.7 V202.4 M51,167.7 H374.7 M51,132.9 H374.7 M51,98.2 H374.7 M51,63.4 H374.7 " fill="none" stroke="#dcdcdc" stroke-width="0.7" stroke-dasharray="0.8 1.5"/><polygon points="85.2,175 120.1,142 155.1,165.6 190,171.8 224.9,84.3 259.9,188.9 294.8,202.4 329.8,202.4 364.7,202.4 364.7,202.4 329.8,202.4 294.8,202.4 259.9,195.8 224.9,107.9 190,185.7 155.1,182.3 120.1,165.6 85.2,192.3" fill="#ff0"/><polyline points="85.2,175 120.1,142 155.1,165.6 190,171.8 224.9,84.3 259.9,188.9 294.8,202.4 329.8,202.4 364.7,202.4" fill="none" stroke="#00f" stroke-width="1.1" stroke-dasharray="7.4 4.6" clip-path="url(#c5089)"/><circle cx="85.2" cy="175" r="2.7" fill="#00f"/><circle cx="120.1" cy="142" r="2.7" fill="#00f"/><circle cx="155.1" cy="165.6" r="2.7" fill="#00f"/><circle cx="190" cy="171.8" r="2.7" fill="#00f"/><circle cx="224.9" cy="84.3" r="2.7" fill="#00f"/><circle cx="259.9" cy="188.9" r="2.7" fill="#00f"/><circle cx="294.8" cy="202.4" r="2.7" fill="#00f"/><circle cx="329.8" cy="202.4" r="2.7" fill="#00f"/><circle cx="364.7" cy="202.4" r="2.7" fill="#00f"/><polyline points="85.2,180.5 120.1,-72.4 155.1,143 190,192.7 224.9,169.4 259.9,162.1 294.8,176.3 329.8,184.7 364.7,176.3" fill="none" stroke="#000" stroke-width="1.1" clip-path="url(#c5089)"/><circle cx="85.2" cy="180.5" r="2.7" fill="#000"/><circle cx="155.1" cy="143" r="2.7" fill="#000"/><circle cx="190" cy="192.7" r="2.7" fill="#000"/><circle cx="224.9" cy="169.4" r="2.7" fill="#000"/><circle cx="259.9" cy="162.1" r="2.7" fill="#000"/><circle cx="294.8" cy="176.3" r="2.7" fill="#000"/><circle cx="329.8" cy="184.7" r="2.7" fill="#000"/><circle cx="364.7" cy="176.3" r="2.7" fill="#000"/><polyline points="85.2,192.3 120.1,165.6 155.1,182.3 190,185.7 224.9,107.9 259.9,195.8 294.8,202.4 329.8,202.4 364.7,202.4" fill="none" stroke="#f00" stroke-width="1.1" stroke-dasharray="7.4 4.6" clip-path="url(#c5089)"/><circle cx="85.2" cy="192.3" r="2.7" fill="#f00"/><circle cx="120.1" cy="165.6" r="2.7" fill="#f00"/><circle cx="155.1" cy="182.3" r="2.7" fill="#f00"/><circle cx="190" cy="185.7" r="2.7" fill="#f00"/><circle cx="224.9" cy="107.9" r="2.7" fill="#f00"/><circle cx="259.9" cy="195.8" r="2.7" fill="#f00"/><circle cx="294.8" cy="202.4" r="2.7" fill="#f00"/><circle cx="329.8" cy="202.4" r="2.7" fill="#f00"/><circle cx="364.7" cy="202.4" r="2.7" fill="#f00"/><text x="48.8" y="171.8" font-size="11.8" text-anchor="end">10 %</text><text x="48.8" y="137.1" font-size="11.8" text-anchor="end">20 %</text><text x="48.8" y="102.3" font-size="11.8" text-anchor="end">30 %</text><text x="48.8" y="67.6" font-size="11.8" text-anchor="end">40 %</text><text x="48.8" y="32.9" font-size="11.8" text-anchor="end">50 %</text><text transform="translate(83.4,210.9) rotate(-90)" font-size="14.5" text-anchor="end">Hardware and</text><text transform="translate(97.4,210.9) rotate(-90)" font-size="14.5" text-anchor="end">Architecture</text><text transform="translate(118.3,210.9) rotate(-90)" font-size="14.5" text-anchor="end">Computer</text><text transform="translate(132.3,210.9) rotate(-90)" font-size="14.5" text-anchor="end">Science</text><text transform="translate(153.2,210.9) rotate(-90)" font-size="14.5" text-anchor="end">Software</text><text transform="translate(167.2,210.9) rotate(-90)" font-size="14.5" text-anchor="end">Engineering</text><text transform="translate(188.2,210.9) rotate(-90)" font-size="14.5" text-anchor="end">Information</text><text transform="translate(202.2,210.9) rotate(-90)" font-size="14.5" text-anchor="end">Systems</text><text transform="translate(223.1,210.9) rotate(-90)" font-size="14.5" text-anchor="end">Information</text><text transform="translate(237.1,210.9) rotate(-90)" font-size="14.5" text-anchor="end">Technology</text><text transform="translate(258,210.9) rotate(-90)" font-size="14.5" text-anchor="end">Mathematics</text><text transform="translate(272,210.9) rotate(-90)" font-size="14.5" text-anchor="end">for Computing</text><text transform="translate(293,210.9) rotate(-90)" font-size="14.5" text-anchor="end">Basic</text><text transform="translate(307,210.9) rotate(-90)" font-size="14.5" text-anchor="end">Sciences</text><text transform="translate(334.4,210.9) rotate(-90)" font-size="14.5" text-anchor="end">Business</text><text transform="translate(362.8,210.9) rotate(-90)" font-size="14.5" text-anchor="end">General</text><text transform="translate(376.8,210.9) rotate(-90)" font-size="14.5" text-anchor="end">Knowledge</text><rect x="266.7" y="38.9" width="100.5" height="51" fill="#555"/><rect x="263.7" y="35.9" width="100.5" height="51" fill="#fff" stroke="#000" stroke-width="1.2"/><line x1="267.2" y1="45.7" x2="298.4" y2="45.7" stroke="#00f" stroke-width="1.1" stroke-dasharray="7.4 4.6"/><text x="298.7" y="50" font-size="14.2">IT Max</text><line x1="267.2" y1="60" x2="298.4" y2="60" stroke="#000" stroke-width="1.1"/><text x="298.7" y="64.3" font-size="14.2">CS-SVC</text><line x1="267.2" y1="74.2" x2="298.4" y2="74.2" stroke="#f00" stroke-width="1.1" stroke-dasharray="7.4 4.6"/><text x="298.7" y="78.5" font-size="14.2">IT Min</text></svg>
<div class="t b" style="top:1398.7px;font-size:23px;left:3639.1px;color:#fff;letter-spacing:0.56px;">CS (SVC) vs SE (ACM/IEEE-CS)</div>
<div class="t b" style="top:1398.6px;font-size:23.1px;left:4066px;color:#fff;letter-spacing:0.55px;">CS (SVC) vs IT (ACM/IEEE-CS)</div>
<div style="position:absolute;left:3584px;top:1427.8px;width:884px;height:2.4px;background:#fff"></div>
<div style="position:absolute;left:3587.6px;top:1437.4px;width:865.8px;height:248.6px;box-sizing:border-box;border:1.2px solid #111;border-radius:10px;background:#fff;box-shadow:3px 3px 0 0 #444,6px 6px 0 0 #8a8a8a,9px 9px 1px 0 #d8d8d8;"></div>
<div style="position:absolute;left:3596.6px;top:1445px;width:848.8px;height:232.6px;box-sizing:border-box;border:1.6px solid #111"></div>
<svg style="position:absolute;left:3590px;top:1440px" width="200" height="240" viewBox="3590 1440 200 240"><g fill="none" stroke="#000" stroke-width="1.3"><path d="M3733.9,1458.1 H3664.7 V1549.2"/><path d="M3733.9,1498.7 H3688.3 V1549.2"/><path d="M3726.8,1646.2 V1584.9"/></g><g fill="#000"><polygon points="3664.7,1553.4 3662.1,1546.4 3667.3,1546.4"/><polygon points="3688.3,1553.4 3685.7,1546.4 3690.9,1546.4"/><polygon points="3726.8,1580.7 3724.2,1587.7 3729.4,1587.7"/></g></svg>
<div class="t" style="top:1445.7px;font-size:16.8px;left:3743.8px;letter-spacing:-0.26px;">Nivel</div>
<div class="t" style="top:1463px;font-size:14px;left:3743.8px;letter-spacing:0.52px;">1xx = introductorio, 2xx = intermedio, 3xx = avanzado, 4xx = proyecto final de carrera</div>
<div class="t" style="top:1488px;font-size:16.8px;left:3743.8px;letter-spacing:0.48px;">Tema (segundo dígito/letra)</div>
<div class="t" style="top:1506px;font-size:14px;left:3743.8px;letter-spacing:0.46px;">1 = Algoritmos y Complejidad (AL)</div>
<div class="t" style="top:1521px;font-size:14px;left:3743.8px;letter-spacing:0.57px;">2 = Arquitectura y Organización (AR)</div>
<div class="t" style="top:1536.3px;font-size:14px;left:3743.8px;letter-spacing:0.42px;">3 = Redes y Comunicaciones (NC)</div>
<div class="t" style="top:1552px;font-size:14px;left:3743.8px;letter-spacing:0.52px;">4 = Lenguajes de Programación (PL)</div>
<div class="t" style="top:1566.9px;font-size:14px;left:3743.8px;letter-spacing:0.40px;">5 = Gráficos y Visualización (GV)</div>
<div class="t" style="top:1582.3px;font-size:14px;left:3743.8px;letter-spacing:0.43px;">6 = Sistemas Inteligentes (IS)</div>
<div class="t" style="top:1598px;font-size:14px;left:3743.8px;letter-spacing:0.45px;">7 = Gestión de Información (IM)</div>
<div class="t" style="top:1612.9px;font-size:14px;left:3743.8px;letter-spacing:0.47px;">8 = Asuntos Sociales y Práctica Profesional (SP)</div>
<div class="t" style="top:1628.2px;font-size:14px;left:3743.8px;letter-spacing:0.38px;">9 = Ingenieríade Software (SE)</div>
<div class="t" style="top:1506px;font-size:14px;left:4043.7px;letter-spacing:0.53px;">B = Desarrollo Basados en Plataforma (PBD)</div>
<div class="t" style="top:1521px;font-size:14px;left:4043.7px;letter-spacing:0.52px;">C = Ciencia Computacional (CN)</div>
<div class="t" style="top:1536.3px;font-size:14px;left:4043.7px;letter-spacing:0.61px;">D = Estructura Discretas (DS)</div>
<div class="t" style="top:1552px;font-size:14px;left:4043.7px;letter-spacing:0.44px;">F = Fundamentos del Desarrollo de Software (SDF)</div>
<div class="t" style="top:1566.9px;font-size:14px;left:4043.7px;letter-spacing:0.55px;">H = Interacción Humano Computador (HCI)</div>
<div class="t" style="top:1582.3px;font-size:14px;left:4043.7px;letter-spacing:0.45px;">I = Aseguramiento y Seguridad de la Información (IAS)</div>
<div class="t" style="top:1598px;font-size:14px;left:4043.7px;letter-spacing:0.63px;">P = Computación Paralela y Distribuída (PD)</div>
<div class="t" style="top:1612.9px;font-size:14px;left:4043.7px;letter-spacing:0.49px;">S = Sistemas Operativos (OS)</div>
<div class="t" style="top:1628.2px;font-size:14px;left:4043.7px;letter-spacing:0.54px;">U = Fundamentos de Sistemas (SF)</div>
<div class="t" style="top:1555.2px;font-size:27.5px;left:3608.4px;letter-spacing:0.15px;">C S 2 7 0 1</div>
<div class="t" style="top:1652px;font-size:16.8px;left:3615.8px;letter-spacing:0.27px;">Identificador numérico en el área</div>
<div class="t b" style="top:1704.7px;font-size:22.6px;left:3709.6px;color:#fff;letter-spacing:0.47px;">Codificación de cursos del área de Ciencia de la Computación</div>
<div style="position:absolute;left:3584px;top:1733.8px;width:884px;height:2.4px;background:#fff"></div>
<div style="position:absolute;left:3588px;top:1740px;width:865.7px;height:641.5px;box-sizing:border-box;border:1.2px solid #111;border-radius:14px;background:#fff;box-shadow:3px 3px 0 0 #444,6px 6px 0 0 #8a8a8a,9px 9px 1px 0 #d8d8d8;"></div>
<div style="position:absolute;left:3597px;top:1747.6px;width:848.7px;height:625.5px;box-sizing:border-box;border:1.6px solid #111"></div>
<svg style="position:absolute;left:3590px;top:1745px" width="860" height="630" viewBox="3590 1745 860 630"><path d="M3757,1858 H4019.5 A252,164.3 0 0 1 4019.5,2186.6 H3757 Z" fill="#919191"/><g fill="none" stroke="#000" stroke-width="1.5"><path d="M4124,1872.3 H4432.4"/><path d="M3756,1872.3 H3758"/><path d="M4258,1972.6 H4432.4"/><path d="M3756,1972.6 H3758"/><path d="M4258,2073 H4432.4"/><path d="M3756,2073 H3758"/><path d="M4122,2172.8 H4432.4"/><path d="M3756,2172.8 H3758"/><rect x="3757" y="1772" width="675.4" height="500.3" stroke-width="1.8"/></g><path d="M3929,2323 H4255" stroke="#000" stroke-width="3" fill="none"/><polygon points="3917.4,2323 3931,2319 3928.5,2323 3931,2327"/><polygon points="4267,2323 4253.4,2319 4256,2323 4253.4,2327"/></svg>
<div class="t" style="top:1780px;font-size:18px;right:750px;letter-spacing:0.28px;">Problemática</div>
<div class="t" style="top:1800.9px;font-size:18px;right:750px;letter-spacing:0.28px;">Organizacional</div>
<div class="t" style="top:1821.8px;font-size:18px;right:750px;letter-spacing:0.28px;">y Sistemas</div>
<div class="t" style="top:1842.6px;font-size:18px;right:750px;letter-spacing:0.28px;">de Información</div>
<div class="t" style="top:1900.8px;font-size:18px;right:750px;letter-spacing:0.28px;">Tecnologías</div>
<div class="t" style="top:1922.1px;font-size:18px;right:750px;letter-spacing:0.28px;">de Aplicación</div>
<div class="t" style="top:1990.9px;font-size:18px;right:750px;letter-spacing:0.28px;">Tecnologías</div>
<div class="t" style="top:2011.8px;font-size:18px;right:750px;letter-spacing:0.28px;">y Métodos</div>
<div class="t" style="top:2032.6px;font-size:18px;right:750px;letter-spacing:0.28px;">de Software</div>
<div class="t" style="top:2101px;font-size:18px;right:750px;letter-spacing:0.28px;">Infraestructura</div>
<div class="t" style="top:2122.8px;font-size:18px;right:750px;letter-spacing:0.28px;">de Sistemas</div>
<div class="t" style="top:2190.7px;font-size:18px;right:750px;letter-spacing:0.28px;">Arquitectura y</div>
<div class="t" style="top:2212px;font-size:18px;right:750px;letter-spacing:0.28px;">Hardware</div>
<div class="t" style="top:2232.9px;font-size:18px;right:750px;letter-spacing:0.28px;">Computacional</div>
<div class="t" style="top:2291px;font-size:18px;left:3773.5px;letter-spacing:0.28px;">Teoría</div>
<div class="t" style="top:2312.3px;font-size:18px;left:3773.5px;letter-spacing:0.28px;">Principios</div>
<div class="t" style="top:2333.7px;font-size:18px;left:3773.5px;letter-spacing:0.28px;">Innovación</div>
<div class="t" style="top:2291px;font-size:18px;right:68.4px;letter-spacing:0.28px;">Aplicación</div>
<div class="t" style="top:2312.3px;font-size:18px;right:68.4px;letter-spacing:0.28px;">Despliegue</div>
<div class="t" style="top:2333.7px;font-size:18px;right:68.4px;letter-spacing:0.28px;">Configuración</div>
<div class="t" style="top:2339px;font-size:18px;left:3917px;letter-spacing:0.28px;">Más Teórico</div>
<div class="t" style="top:2339px;font-size:18px;right:224px;letter-spacing:0.28px;">Más Aplicado</div>
<div class="t" style="top:2326.2px;font-size:44px;left:3612px;letter-spacing:-2.41px;">CS</div>
<div class="t b" style="top:2400.3px;font-size:22.4px;left:3890.2px;color:#fff;letter-spacing:0.45px;">Perfil internacional de CS</div>
<div style="position:absolute;left:3584px;top:2424.8px;width:884px;height:2.4px;background:#fff"></div>
<div style="position:absolute;left:3603.4px;top:2442.7px;width:451.6px;height:266.7px;box-sizing:border-box;border:1.2px solid #111;border-radius:9px;background:#fff;box-shadow:3px 3px 0 0 #444,6px 6px 0 0 #8a8a8a,9px 9px 1px 0 #d8d8d8;"></div>
<svg style="position:absolute;left:3605px;top:2445px" width="420" height="262" viewBox="3605 2445 420 262"><path d="M3831.6,2576.9 L3918.5,2504.7 A113,113 0 1 0 3924.3,2641.6 Z" fill="#6495ed" stroke="#000" stroke-width="1.5" stroke-linejoin="round"/><path d="M3831.6,2576.9 L3934.2,2529.5 A113,113 0 0 0 3918.5,2504.7 Z" fill="#cd4f39" stroke="#000" stroke-width="1.5" stroke-linejoin="round"/><path d="M3831.6,2576.9 L3944.6,2576.9 A113,113 0 0 0 3934.2,2529.5 Z" fill="#66cd00" stroke="#000" stroke-width="1.5" stroke-linejoin="round"/><path d="M3831.6,2576.9 L3924.3,2641.6 A113,113 0 0 0 3944.6,2576.9 Z" fill="#c1cdc1" stroke="#000" stroke-width="1.5" stroke-linejoin="round"/></svg>
<div class="t" style="top:2570.9px;font-size:20.5px;left:3629.1px;letter-spacing:0.25px;">CS (171)</div>
<div class="t" style="top:2570.1px;font-size:20.5px;left:3735.9px;letter-spacing:-0.33px;">79.1 %</div>
<div class="t" style="top:2489.7px;font-size:20.5px;left:3938.5px;letter-spacing:0.92px;">ET (9)</div>
<div class="t" style="top:2535.3px;font-size:20.5px;left:3955.1px;letter-spacing:0.47px;">FG (15)</div>
<div class="t" style="top:2605.7px;font-size:20.5px;left:3953px;letter-spacing:0.31px;">CB (21)</div>
<div class="t" style="top:2530.3px;font-size:20.5px;left:3867.3px;letter-spacing:-0.50px;">4.1 %</div>
<div class="t" style="top:2551.8px;font-size:20.5px;left:3874.7px;letter-spacing:-0.25px;">6.9 %</div>
<div class="t" style="top:2587.1px;font-size:20.5px;left:3873.9px;letter-spacing:-0.41px;">9.7 %</div>
<div style="position:absolute;left:4009px;top:2442.7px;width:452px;height:266.7px;box-sizing:border-box;border:1.2px solid #111;border-radius:9px;background:#fff;box-shadow:3px 3px 0 0 #444,6px 6px 0 0 #8a8a8a,9px 9px 1px 0 #d8d8d8;"></div>
<svg style="position:absolute;left:4011px;top:2445px" width="448" height="262" viewBox="4011 2445 448 262"><circle cx="4217.1" cy="2566" r="102.7" fill="#444"/><path d="M4215.6,2564.5 L4318.3,2564.5 A102.7,102.7 0 0 0 4232.2,2463.1 Z" fill="#fff" stroke="#333" stroke-width="0.8" stroke-linejoin="round"/><path d="M4215.6,2564.5 L4232.2,2463.1 A102.7,102.7 0 0 0 4123.1,2609 Z" fill="#ff0" stroke="#333" stroke-width="0.8" stroke-linejoin="round"/><path d="M4215.6,2564.5 L4123.1,2609 A102.7,102.7 0 0 0 4305.2,2614.8 Z" fill="#0f0" stroke="#333" stroke-width="0.8" stroke-linejoin="round"/><path d="M4215.6,2564.5 L4305.2,2614.8 A102.7,102.7 0 0 0 4318.3,2564.5 Z" fill="#c0c0c0" stroke="#333" stroke-width="0.8" stroke-linejoin="round"/></svg>
<div class="t" style="top:2476.6px;font-size:13.4px;left:4302.2px;letter-spacing:0.28px;">Introductorio (42)</div>
<div class="t" style="top:2483.2px;font-size:13.4px;left:4035.9px;letter-spacing:0.17px;">Intermedio (65)</div>
<div class="t" style="top:2676.7px;font-size:13.4px;left:4170.9px;letter-spacing:0.14px;">Avanzado (65)</div>
<div class="t" style="top:2586.4px;font-size:13.4px;left:4326.7px;letter-spacing:0.23px;">Proyecto Final (15)</div>
<div class="t" style="top:2517.8px;font-size:13.4px;left:4262.5px;transform:translateX(-50%);letter-spacing:0.30px;">22.4 %</div>
<div class="t" style="top:2520.7px;font-size:13.4px;left:4165.5px;transform:translateX(-50%);letter-spacing:0.30px;">34.7 %</div>
<div class="t" style="top:2619.7px;font-size:13.4px;left:4213.6px;transform:translateX(-50%);letter-spacing:0.30px;">34.7 %</div>
<div class="t" style="top:2574.1px;font-size:13.4px;left:4274.9px;transform:translateX(-50%);letter-spacing:0.30px;">8.0 %</div>
<div class="t b" style="top:2724.1px;font-size:22.5px;left:3690.8px;color:#fff;letter-spacing:0.47px;">Créditos por área</div>
<div class="t b" style="top:2724px;font-size:22.7px;left:4148.5px;color:#fff;letter-spacing:0.46px;">Créditos por nivel</div>
<div style="position:absolute;left:37.8px;top:2311.8px;width:2138.9px;height:296.7px;box-sizing:border-box;border:1px solid #222;border-radius:8px;background:#fff;box-shadow:2.5px 2.5px 0 0 #505050,5.3px 5.3px 1.2px 0 #9c9c9c;"></div>
<div style="position:absolute;left:814.3px;top:2319.3px;width:94.6px;height:19px;background:#d4d4d4"></div>
<div class="t" style="top:2320.2px;font-size:15.3px;left:828.9px;letter-spacing:0.71px;">First Sem</div>
<div class="t" style="top:2320.2px;font-size:15.3px;left:910.9px;letter-spacing:0.47px;">Second Sem</div>
<div style="position:absolute;left:990.7px;top:2319.3px;width:75.7px;height:19px;background:#d4d4d4"></div>
<div class="t" style="top:2320.2px;font-size:15.3px;left:992.9px;letter-spacing:0.70px;">Third Sem</div>
<div class="t" style="top:2320.2px;font-size:15.3px;left:1083.8px;letter-spacing:0.69px;">Fourth Sem</div>
<div style="position:absolute;left:1180px;top:2319.3px;width:94.7px;height:19px;background:#d4d4d4"></div>
<div class="t" style="top:2320.2px;font-size:15.3px;left:1194px;letter-spacing:0.64px;">Fifth Sem</div>
<div class="t" style="top:2320.2px;font-size:15.3px;left:1296.8px;letter-spacing:0.65px;">Sixth Sem</div>
<div style="position:absolute;left:1388.2px;top:2319.3px;width:132.5px;height:19px;background:#d4d4d4"></div>
<div class="t" style="top:2320.2px;font-size:15.3px;left:1411.2px;letter-spacing:0.57px;">Seventh Sem</div>
<div class="t" style="top:2320.2px;font-size:15.3px;left:1566.7px;letter-spacing:0.66px;">Eighth Sem</div>
<div style="position:absolute;left:1691.1px;top:2319.3px;width:227.2px;height:19px;background:#d4d4d4"></div>
<div class="t" style="top:2320.2px;font-size:15.3px;left:1768.7px;letter-spacing:0.68px;">Ninth Sem</div>
<div class="t" style="top:2320.2px;font-size:15.3px;left:2004.7px;letter-spacing:0.84px;">Tenth Sem</div>
<div style="position:absolute;left:814.3px;top:2338px;width:176.4px;height:263.5px;background:repeating-linear-gradient(90deg,#d6d6d6 0,#d6d6d6 18.9px,transparent 18.9px,transparent 37.9px)"></div><div style="position:absolute;left:984.6px;top:2338px;width:6.2px;height:263.5px;background:#d6d6d6"></div><div style="position:absolute;left:990.7px;top:2338px;width:1173.7px;height:263.5px;background:repeating-linear-gradient(90deg,transparent 0,transparent 18.9px,#d6d6d6 18.9px,#d6d6d6 37.9px)"></div>
<div style="position:absolute;left:45px;top:2396.7px;width:2119.3px;height:18.7px;background:#cbcbcb"></div>
<div style="position:absolute;left:45px;top:2434.1px;width:2119.3px;height:18.7px;background:#cbcbcb"></div>
<div style="position:absolute;left:45px;top:2471.5px;width:2119.3px;height:18.7px;background:#cbcbcb"></div>
<div style="position:absolute;left:45px;top:2508.9px;width:2119.3px;height:37.4px;background:#cbcbcb"></div>
<div style="position:absolute;left:45px;top:2565px;width:2119.3px;height:18.7px;background:#cbcbcb"></div>
<div style="position:absolute;left:0;top:2300px;width:2200px;height:96.4px"><div class="hc" style="left:814.3px;height:51.7px;background:#6495ed"><span>CS111</span></div><div class="hc" style="left:833.2px;height:56.3px;background:#6495ed"><span>CS1D1</span></div><div class="hc" style="left:852.2px;height:59px;background:#c1cdc1"><span>MA100</span></div><div class="hc" style="left:871.1px;height:53.7px;background:#66cd00"><span>FG101</span></div><div class="hc" style="left:890px;height:53.7px;background:#66cd00"><span>FG102</span></div><div class="hc" style="left:908.9px;height:52.2px;background:#6495ed"><span>CS112</span></div><div class="hc" style="left:927.9px;height:56.3px;background:#6495ed"><span>CS1D2</span></div><div class="hc" style="left:946.8px;height:59px;background:#c1cdc1"><span>MA101</span></div><div class="hc" style="left:968.7px;height:53.7px;background:#66cd00"><span>FG106</span></div><div class="hc" style="left:990.7px;height:52.2px;background:#6495ed"><span>CS113</span></div><div class="hc" style="left:1009.6px;height:52.8px;background:#6495ed"><span>CS221</span></div><div class="hc" style="left:1028.5px;height:55.5px;background:#6495ed"><span>CS2B1</span></div><div class="hc" style="left:1047.5px;height:53.7px;background:#66cd00"><span>FG203</span></div><div class="hc" style="left:1066.4px;height:52.8px;background:#6495ed"><span>CS210</span></div><div class="hc" style="left:1085.3px;height:52.2px;background:#6495ed"><span>CS211</span></div><div class="hc" style="left:1104.2px;height:52.8px;background:#6495ed"><span>CS271</span></div><div class="hc" style="left:1123.2px;height:53.7px;background:#6495ed"><span>CS2S1</span></div><div class="hc" style="left:1142.1px;height:59px;background:#c1cdc1"><span>MA203</span></div><div class="hc" style="left:1161px;height:53.7px;background:#66cd00"><span>FG350</span></div><div class="hc" style="left:1180px;height:52.8px;background:#6495ed"><span>CS212</span></div><div class="hc" style="left:1198.9px;height:52.8px;background:#6495ed"><span>CS272</span></div><div class="hc" style="left:1217.8px;height:52.8px;background:#6495ed"><span>CS291</span></div><div class="hc" style="left:1236.8px;height:52.8px;background:#6495ed"><span>CS342</span></div><div class="hc" style="left:1255.7px;height:53.4px;background:#c1cdc1"><span>CB111</span></div><div class="hc" style="left:1274.6px;height:52.8px;background:#6495ed"><span>CS261</span></div><div class="hc" style="left:1293.5px;height:52.8px;background:#6495ed"><span>CS292</span></div><div class="hc" style="left:1312.5px;height:52.2px;background:#6495ed"><span>CS311</span></div><div class="hc" style="left:1331.4px;height:52.8px;background:#6495ed"><span>CS312</span></div><div class="hc" style="left:1350.3px;height:52.8px;background:#6495ed"><span>CS393</span></div><div class="hc" style="left:1369.3px;height:59px;background:#c1cdc1"><span>MA307</span></div><div class="hc" style="left:1388.2px;height:52.8px;background:#6495ed"><span>CS231</span></div><div class="hc" style="left:1407.1px;height:56.3px;background:#6495ed"><span>CS2H1</span></div><div class="hc" style="left:1426.1px;height:52.8px;background:#6495ed"><span>CS391</span></div><div class="hc" style="left:1445px;height:52.8px;background:#6495ed"><span>CS401</span></div><div class="hc" style="left:1463.9px;height:52.8px;background:#6495ed"><span>CS251</span></div><div class="hc" style="left:1482.8px;height:52.8px;background:#6495ed"><span>CS262</span></div><div class="hc" style="left:1501.8px;height:54.6px;background:#6495ed"><span>CS2T1</span></div><div class="hc" style="left:1520.7px;height:52.8px;background:#6495ed"><span>CS281</span></div><div class="hc" style="left:1539.6px;height:50.2px;background:#6495ed"><span>CS3I1</span></div><div class="hc" style="left:1558.6px;height:53.7px;background:#6495ed"><span>CS3P1</span></div><div class="hc" style="left:1577.5px;height:52.8px;background:#6495ed"><span>CS402</span></div><div class="hc" style="left:1596.4px;height:52.8px;background:#cd4f39"><span>ET201</span></div><div class="hc" style="left:1615.4px;height:52.8px;background:#6495ed"><span>CS361</span></div><div class="hc" style="left:1634.3px;height:54.6px;background:#6495ed"><span>CS3T1</span></div><div class="hc" style="left:1653.2px;height:54.6px;background:#6495ed"><span>CS3T2</span></div><div class="hc" style="left:1672.2px;height:52.8px;background:#6495ed"><span>CS371</span></div><div class="hc" style="left:1691.1px;height:52.8px;background:#6495ed"><span>CS370</span></div><div class="hc" style="left:1710px;height:52.8px;background:#6495ed"><span>CS403</span></div><div class="hc" style="left:1728.9px;height:54.6px;background:#c1cdc1"><span>CB309</span></div><div class="hc" style="left:1747.9px;height:52.8px;background:#cd4f39"><span>ET301</span></div><div class="hc" style="left:1766.8px;height:52.8px;background:#6495ed"><span>CS362</span></div><div class="hc" style="left:1785.7px;height:52.8px;background:#6495ed"><span>CS363</span></div><div class="hc" style="left:1804.7px;height:54.6px;background:#6495ed"><span>CS3T3</span></div><div class="hc" style="left:1823.6px;height:54.6px;background:#6495ed"><span>CS3T4</span></div><div class="hc" style="left:1842.5px;height:52.8px;background:#6495ed"><span>CS372</span></div><div class="hc" style="left:1861.5px;height:52.8px;background:#6495ed"><span>CS373</span></div><div class="hc" style="left:1880.4px;height:52.8px;background:#6495ed"><span>CS351</span></div><div class="hc" style="left:1899.3px;height:52.8px;background:#6495ed"><span>CS392</span></div><div class="hc" style="left:1918.2px;height:52.8px;background:#6495ed"><span>CS365</span></div><div class="hc" style="left:1937.2px;height:53.7px;background:#6495ed"><span>CS3P2</span></div><div class="hc" style="left:1956.1px;height:53.7px;background:#6495ed"><span>CS3P3</span></div><div class="hc" style="left:1975px;height:52.8px;background:#6495ed"><span>CS404</span></div><div class="hc" style="left:1994px;height:53.1px;background:#66cd00"><span>FG211</span></div><div class="hc" style="left:2012.9px;height:52.8px;background:#cd4f39"><span>ET302</span></div><div class="hc" style="left:2031.8px;height:52.8px;background:#6495ed"><span>CS374</span></div><div class="hc" style="left:2050.8px;height:52.8px;background:#6495ed"><span>CS379</span></div><div class="hc" style="left:2069.7px;height:54.6px;background:#6495ed"><span>CS3T5</span></div><div class="hc" style="left:2088.6px;height:54.6px;background:#6495ed"><span>CS3T9</span></div><div class="hc" style="left:2107.5px;height:52.8px;background:#6495ed"><span>CS364</span></div><div class="hc" style="left:2126.5px;height:52.8px;background:#6495ed"><span>CS366</span></div><div class="hc" style="left:2145.4px;height:52.8px;background:#6495ed"><span>CS369</span></div></div>
<div class="t b" style="top:2378.3px;font-size:15.9px;left:67.6px;letter-spacing:0.23px;">Skill/Course</div>
<div class="t" style="top:2396.1px;font-size:16px;right:4423.8px;">1)</div>
<div class="t" style="top:2396.1px;font-size:16px;left:67.6px;letter-spacing:0.40px;">Analyze a complex computing problem and to apply principles of computing and other relevant disciplines.</div>
<div class="dn" style="left:816.1px;top:2396.4px">2</div><div class="dn" style="left:835px;top:2396.4px">3</div><div class="dn" style="left:854px;top:2396.4px">3</div><div class="dn" style="left:891.8px;top:2396.4px">1</div><div class="dn" style="left:910.7px;top:2396.4px">3</div><div class="dn" style="left:929.7px;top:2396.4px">1</div><div class="dn" style="left:948.6px;top:2396.4px">3</div><div class="dn" style="left:992.5px;top:2396.4px">2</div><div class="dn" style="left:1011.4px;top:2396.4px">2</div><div class="dn" style="left:1068.2px;top:2396.4px">2</div><div class="dn" style="left:1087.1px;top:2396.4px">3</div><div class="dn" style="left:1106px;top:2396.4px">3</div><div class="dn" style="left:1125px;top:2396.4px">3</div><div class="dn" style="left:1143.9px;top:2396.4px">3</div><div class="dn" style="left:1181.8px;top:2396.4px">3</div><div class="dn" style="left:1200.7px;top:2396.4px">3</div><div class="dn" style="left:1219.6px;top:2396.4px">2</div><div class="dn" style="left:1238.6px;top:2396.4px">3</div><div class="dn" style="left:1257.5px;top:2396.4px">2</div><div class="dn" style="left:1276.4px;top:2396.4px">2</div><div class="dn" style="left:1295.3px;top:2396.4px">2</div><div class="dn" style="left:1314.3px;top:2396.4px">2</div><div class="dn" style="left:1333.2px;top:2396.4px">2</div><div class="dn" style="left:1371.1px;top:2396.4px">2</div><div class="dn" style="left:1390px;top:2396.4px">2</div><div class="dn" style="left:1408.9px;top:2396.4px">1</div><div class="dn" style="left:1427.9px;top:2396.4px">3</div><div class="dn" style="left:1446.8px;top:2396.4px">3</div><div class="dn" style="left:1465.7px;top:2396.4px">2</div><div class="dn" style="left:1484.6px;top:2396.4px">1</div><div class="dn" style="left:1503.6px;top:2396.4px">1</div><div class="dn" style="left:1541.4px;top:2396.4px">3</div><div class="dn" style="left:1560.4px;top:2396.4px">2</div><div class="dn" style="left:1579.3px;top:2396.4px">3</div><div class="dn" style="left:1598.2px;top:2396.4px">2</div><div class="dn" style="left:1617.2px;top:2396.4px">3</div><div class="dn" style="left:1636.1px;top:2396.4px">1</div><div class="dn" style="left:1674px;top:2396.4px">1</div><div class="dn" style="left:1692.9px;top:2396.4px">2</div><div class="dn" style="left:1711.8px;top:2396.4px">3</div><div class="dn" style="left:1730.7px;top:2396.4px">3</div><div class="dn" style="left:1768.6px;top:2396.4px">2</div><div class="dn" style="left:1787.5px;top:2396.4px">1</div><div class="dn" style="left:1806.5px;top:2396.4px">1</div><div class="dn" style="left:1882.2px;top:2396.4px">2</div><div class="dn" style="left:1901.1px;top:2396.4px">3</div><div class="dn" style="left:1939px;top:2396.4px">2</div><div class="dn" style="left:1957.9px;top:2396.4px">2</div><div class="dn" style="left:1976.8px;top:2396.4px">3</div>
<div class="t" style="top:2414.8px;font-size:16px;right:4423.8px;">2)</div>
<div class="t" style="top:2414.8px;font-size:16px;left:67.6px;letter-spacing:0.38px;">Design, implement and evaluate a computing-based solution.</div>
<div class="dn" style="left:814px;top:2415.1px">2</div><div class="dn" style="left:889.7px;top:2415.1px">1</div><div class="dn" style="left:908.6px;top:2415.1px">3</div><div class="dn" style="left:1028.2px;top:2415.1px">2</div><div class="dn" style="left:1066.1px;top:2415.1px">2</div><div class="dn" style="left:1217.5px;top:2415.1px">2</div><div class="dn" style="left:1293.2px;top:2415.1px">2</div><div class="dn" style="left:1331.1px;top:2415.1px">1</div><div class="dn" style="left:1350px;top:2415.1px">2</div><div class="dn" style="left:1387.9px;top:2415.1px">2</div><div class="dn" style="left:1406.8px;top:2415.1px">3</div><div class="dn" style="left:1425.8px;top:2415.1px">3</div><div class="dn" style="left:1444.7px;top:2415.1px">2</div><div class="dn" style="left:1539.3px;top:2415.1px">3</div><div class="dn" style="left:1577.2px;top:2415.1px">2</div><div class="dn" style="left:1596.1px;top:2415.1px">3</div><div class="dn" style="left:1709.7px;top:2415.1px">3</div><div class="dn" style="left:1728.6px;top:2415.1px">2</div><div class="dn" style="left:1899px;top:2415.1px">3</div><div class="dn" style="left:1955.8px;top:2415.1px">2</div><div class="dn" style="left:1974.7px;top:2415.1px">3</div>
<div class="t" style="top:2433.5px;font-size:16px;right:4423.8px;">3)</div>
<div class="t" style="top:2433.5px;font-size:16px;left:67.6px;letter-spacing:0.28px;">Communicate effectively in a variety of professional contexts.</div>
<div class="dn" style="left:872.9px;top:2433.8px">2</div><div class="dn" style="left:891.8px;top:2433.8px">2</div><div class="dn" style="left:970.5px;top:2433.8px">2</div><div class="dn" style="left:992.5px;top:2433.8px">2</div><div class="dn" style="left:1030.3px;top:2433.8px">2</div><div class="dn" style="left:1049.3px;top:2433.8px">2</div><div class="dn" style="left:1106px;top:2433.8px">2</div><div class="dn" style="left:1162.8px;top:2433.8px">2</div><div class="dn" style="left:1219.6px;top:2433.8px">2</div><div class="dn" style="left:1295.3px;top:2433.8px">2</div><div class="dn" style="left:1408.9px;top:2433.8px">2</div><div class="dn" style="left:1427.9px;top:2433.8px">2</div><div class="dn" style="left:1446.8px;top:2433.8px">2</div><div class="dn" style="left:1522.5px;top:2433.8px">1</div><div class="dn" style="left:1579.3px;top:2433.8px">2</div><div class="dn" style="left:1598.2px;top:2433.8px">2</div><div class="dn" style="left:1711.8px;top:2433.8px">3</div><div class="dn" style="left:1749.7px;top:2433.8px">2</div><div class="dn" style="left:1901.1px;top:2433.8px">2</div><div class="dn" style="left:1976.8px;top:2433.8px">3</div>
<div class="t" style="top:2452.2px;font-size:16px;right:4423.8px;">4)</div>
<div class="t" style="top:2452.2px;font-size:16px;left:67.6px;letter-spacing:0.29px;">Recognize professional responsabilities and make informed judgments.</div>
<div class="dn" style="left:968.4px;top:2452.5px">2</div><div class="dn" style="left:1047.2px;top:2452.5px">2</div><div class="dn" style="left:1104px;top:2452.5px">2</div><div class="dn" style="left:1122.9px;top:2452.5px">1</div><div class="dn" style="left:1160.7px;top:2452.5px">2</div><div class="dn" style="left:1198.6px;top:2452.5px">3</div><div class="dn" style="left:1387.9px;top:2452.5px">1</div><div class="dn" style="left:1406.8px;top:2452.5px">1</div><div class="dn" style="left:1444.7px;top:2452.5px">3</div><div class="dn" style="left:1520.4px;top:2452.5px">2</div><div class="dn" style="left:1577.2px;top:2452.5px">3</div><div class="dn" style="left:1709.7px;top:2452.5px">3</div><div class="dn" style="left:1974.7px;top:2452.5px">3</div><div class="dn" style="left:1993.7px;top:2452.5px">2</div>
<div class="t" style="top:2470.9px;font-size:16px;right:4423.8px;">5)</div>
<div class="t" style="top:2470.9px;font-size:16px;left:67.6px;letter-spacing:0.40px;">Function effectively as a member or leader of a team .</div>
<div class="dn" style="left:872.9px;top:2471.2px">2</div><div class="dn" style="left:891.8px;top:2471.2px">2</div><div class="dn" style="left:910.7px;top:2471.2px">1</div><div class="dn" style="left:992.5px;top:2471.2px">2</div><div class="dn" style="left:1030.3px;top:2471.2px">2</div><div class="dn" style="left:1106px;top:2471.2px">2</div><div class="dn" style="left:1125px;top:2471.2px">2</div><div class="dn" style="left:1162.8px;top:2471.2px">2</div><div class="dn" style="left:1181.8px;top:2471.2px">2</div><div class="dn" style="left:1276.4px;top:2471.2px">1</div><div class="dn" style="left:1408.9px;top:2471.2px">2</div><div class="dn" style="left:1427.9px;top:2471.2px">2</div><div class="dn" style="left:1446.8px;top:2471.2px">2</div><div class="dn" style="left:1541.4px;top:2471.2px">2</div><div class="dn" style="left:1579.3px;top:2471.2px">2</div><div class="dn" style="left:1598.2px;top:2471.2px">2</div><div class="dn" style="left:1617.2px;top:2471.2px">2</div><div class="dn" style="left:1711.8px;top:2471.2px">3</div><div class="dn" style="left:1749.7px;top:2471.2px">2</div><div class="dn" style="left:1768.6px;top:2471.2px">2</div><div class="dn" style="left:1901.1px;top:2471.2px">2</div><div class="dn" style="left:1976.8px;top:2471.2px">3</div>
<div class="t" style="top:2489.6px;font-size:16px;right:4423.8px;">6)</div>
<div class="t" style="top:2489.6px;font-size:16px;left:67.6px;letter-spacing:0.38px;">Apply computer science theory and software development fundamentals.</div>
<div class="dn" style="left:814px;top:2489.9px">2</div><div class="dn" style="left:832.9px;top:2489.9px">3</div><div class="dn" style="left:851.9px;top:2489.9px">3</div><div class="dn" style="left:870.8px;top:2489.9px">2</div><div class="dn" style="left:889.7px;top:2489.9px">2</div><div class="dn" style="left:908.6px;top:2489.9px">2</div><div class="dn" style="left:927.6px;top:2489.9px">1</div><div class="dn" style="left:946.5px;top:2489.9px">3</div><div class="dn" style="left:1009.3px;top:2489.9px">3</div><div class="dn" style="left:1028.2px;top:2489.9px">2</div><div class="dn" style="left:1066.1px;top:2489.9px">2</div><div class="dn" style="left:1085px;top:2489.9px">3</div><div class="dn" style="left:1104px;top:2489.9px">3</div><div class="dn" style="left:1122.9px;top:2489.9px">2</div><div class="dn" style="left:1141.8px;top:2489.9px">3</div><div class="dn" style="left:1179.7px;top:2489.9px">2</div><div class="dn" style="left:1198.6px;top:2489.9px">3</div><div class="dn" style="left:1217.5px;top:2489.9px">3</div><div class="dn" style="left:1236.5px;top:2489.9px">3</div><div class="dn" style="left:1255.4px;top:2489.9px">2</div><div class="dn" style="left:1274.3px;top:2489.9px">1</div><div class="dn" style="left:1293.2px;top:2489.9px">3</div><div class="dn" style="left:1312.2px;top:2489.9px">2</div><div class="dn" style="left:1331.1px;top:2489.9px">1</div><div class="dn" style="left:1350px;top:2489.9px">3</div><div class="dn" style="left:1369px;top:2489.9px">2</div><div class="dn" style="left:1387.9px;top:2489.9px">2</div><div class="dn" style="left:1425.8px;top:2489.9px">3</div><div class="dn" style="left:1444.7px;top:2489.9px">3</div><div class="dn" style="left:1463.6px;top:2489.9px">2</div><div class="dn" style="left:1520.4px;top:2489.9px">2</div><div class="dn" style="left:1539.3px;top:2489.9px">3</div><div class="dn" style="left:1558.3px;top:2489.9px">2</div><div class="dn" style="left:1577.2px;top:2489.9px">3</div><div class="dn" style="left:1596.1px;top:2489.9px">2</div><div class="dn" style="left:1615.1px;top:2489.9px">3</div><div class="dn" style="left:1690.8px;top:2489.9px">2</div><div class="dn" style="left:1709.7px;top:2489.9px">3</div><div class="dn" style="left:1728.6px;top:2489.9px">2</div><div class="dn" style="left:1766.5px;top:2489.9px">2</div><div class="dn" style="left:1880.1px;top:2489.9px">2</div><div class="dn" style="left:1899px;top:2489.9px">3</div><div class="dn" style="left:1936.9px;top:2489.9px">2</div><div class="dn" style="left:1955.8px;top:2489.9px">2</div><div class="dn" style="left:1974.7px;top:2489.9px">3</div><div class="dn" style="left:1993.7px;top:2489.9px">2</div>
<div class="t" style="top:2508.3px;font-size:16px;right:4423.8px;">7)</div>
<div class="t j" style="top:2508.3px;font-size:16px;left:67.6px;width:746.3px;">Develop computational technology for the well-being of all, contributing with human formation, scientific,</div>
<div class="t" style="top:2526.6px;font-size:16px;left:67.6px;letter-spacing:0.27px;">technological and professional skills to solve social problems of our community</div>
<div class="dn" style="left:872.9px;top:2508.6px">2</div><div class="dn" style="left:891.8px;top:2508.6px">1</div><div class="dn" style="left:970.5px;top:2508.6px">2</div><div class="dn" style="left:1030.3px;top:2508.6px">2</div><div class="dn" style="left:1049.3px;top:2508.6px">2</div><div class="dn" style="left:1106px;top:2508.6px">2</div><div class="dn" style="left:1125px;top:2508.6px">3</div><div class="dn" style="left:1162.8px;top:2508.6px">2</div><div class="dn" style="left:1200.7px;top:2508.6px">3</div><div class="dn" style="left:1390px;top:2508.6px">3</div><div class="dn" style="left:1408.9px;top:2508.6px">1</div><div class="dn" style="left:1427.9px;top:2508.6px">3</div><div class="dn" style="left:1446.8px;top:2508.6px">2</div><div class="dn" style="left:1522.5px;top:2508.6px">2</div><div class="dn" style="left:1541.4px;top:2508.6px">3</div><div class="dn" style="left:1579.3px;top:2508.6px">2</div><div class="dn" style="left:1598.2px;top:2508.6px">3</div><div class="dn" style="left:1711.8px;top:2508.6px">3</div><div class="dn" style="left:1730.7px;top:2508.6px">2</div><div class="dn" style="left:1749.7px;top:2508.6px">3</div><div class="dn" style="left:1901.1px;top:2508.6px">3</div><div class="dn" style="left:1976.8px;top:2508.6px">3</div><div class="dn" style="left:1995.8px;top:2508.6px">2</div>
<div class="t" style="top:2545.7px;font-size:16px;right:4423.8px;">8)</div>
<div class="t" style="top:2545.7px;font-size:16px;left:67.6px;letter-spacing:0.28px;">Transform your knowledge into technological ventures.</div>

<div class="t" style="top:2564.4px;font-size:16px;right:4423.8px;">9)</div>
<div class="t" style="top:2564.4px;font-size:16px;left:67.6px;letter-spacing:0.32px;">Apply knowledge of the humanities in their professional work.</div>

<div class="t" style="top:2583.1px;font-size:16px;right:4423.8px;">10)</div>
<div class="t" style="top:2583.1px;font-size:16px;left:67.6px;letter-spacing:0.49px;">Put technology at the service of the human being.</div>

<div style="position:absolute;left:2385.8px;top:2335.3px;width:1121.5px;height:445.3px;box-sizing:border-box;border:1px solid #222;border-radius:12px;background:#fff;box-shadow:3px 3px 0 0 #505050,6.3px 6.3px 1.2px 0 #9c9c9c;"></div>
<div class="t b" style="top:2353.1px;font-size:22.4px;left:2403.8px;letter-spacing:0.42px;">Educational Objectives</div>
<div style="position:absolute;left:2403.8px;top:2381.6px;width:1096.2px;height:2.2px;background:#000"></div>
<div class="t" style="top:2426.7px;font-size:19.4px;left:2403.8px;letter-spacing:0.36px;">After five years of graduation of our school, our professionals must be able to:</div>
<div class="t" style="top:2460.4px;font-size:19.4px;left:2415.9px;">1.</div>
<div class="t" style="top:2460.4px;font-size:19.4px;left:2437px;letter-spacing:0.42px;">Meet and exceed the work expectations defined by the work environment.</div>
<div class="t" style="top:2495.2px;font-size:19.4px;left:2415.9px;">2.</div>
<div class="t" style="top:2495.2px;font-size:19.4px;left:2437px;letter-spacing:0.41px;">Perform as a member or leader of a specialized and multidisciplinary work team.</div>
<div class="t" style="top:2529.5px;font-size:19.4px;left:2415.9px;">3.</div>
<div class="t j" style="top:2529.5px;font-size:19.4px;left:2437px;width:1063px;letter-spacing:0.30px;">Propose solutions to the work context, where he/she works, based on the implementation or improvement of the state of the art in</div>
<div class="t" style="top:2553.2px;font-size:19.4px;left:2437px;letter-spacing:0.44px;">Computer Science and related areas.</div>
<div class="t" style="top:2588.5px;font-size:19.4px;left:2415.9px;">4.</div>
<div class="t" style="top:2588.5px;font-size:19.4px;left:2437px;letter-spacing:0.24px;">Effectively communicate technological proposals to people of different levels of knowledge and different social environments.</div>
<div class="t" style="top:2622.8px;font-size:19.4px;left:2415.9px;">5.</div>
<div class="t j" style="top:2622.8px;font-size:19.4px;left:2437px;width:1063px;letter-spacing:0.30px;">Update and adapt to new computational knowledge and different labor environments, autonomously or by means of complementary</div>
<div class="t" style="top:2646.5px;font-size:19.4px;left:2437px;letter-spacing:0.16px;">studies.</div>
<div class="t" style="top:2681.8px;font-size:19.4px;left:2415.9px;">6.</div>
<div class="t j" style="top:2681.8px;font-size:19.4px;left:2437px;width:1063px;letter-spacing:0.30px;">Demonstrate a clear understanding of the consequences arising from technological creations in aspects such as: social, ethical,</div>
<div class="t" style="top:2706px;font-size:19.4px;left:2437px;letter-spacing:0.33px;">human, moral, legal, environmental, economic,among others.</div>
<div style="position:absolute;left:38.6px;top:2792.5px;width:4440.7px;height:253.5px;box-sizing:border-box;border:1px solid #222;border-radius:7px;background:#fff;box-shadow:2.5px 2.5px 0 0 #505050,5.3px 5.3px 1.2px 0 #9c9c9c;"></div>
<div style="position:absolute;left:55px;top:2839.2px;width:4415.5px;height:1.6px;background:#000"></div>
<div class="t" style="top:2801.2px;font-size:31.5px;left:56.1px;letter-spacing:1.27px;"><b>Definición de Objetivos de Aprendizaje (</b><i>Learning Outcomes</i><b>)</b></div>
<div class="t" style="top:2841.3px;font-size:31.5px;left:56.1px;letter-spacing:0.84px;"><b>Nivel 1 Familiarizarse (</b><i>Familiarity</i><b>)</b>: El estudiante <b>entiende</b> lo que un concepto es o qué significa. Este nivel de dominio <b>se refiere a un conocimiento básico</b> de un concepto en lugar de esperar instalación real con su aplicación. Proporciona una respuesta a la pregunta: <b>¿Qué sabe usted de esto?</b></div>
<div class="t j" style="top:2881.3px;font-size:31.5px;left:56.1px;width:4414.9px;letter-spacing:0.58px;"><b>Nivel 2 Usar (</b><i>Usage</i><b>)</b>: El alumno es capaz de <b>utilizar o aplicar</b> un concepto de una manera concreta. El uso de un concepto puede incluir, por ejemplo, apropiadamente usando un concepto específico en un programa, utilizando una técnica de prueba en particular, o la realización de un análisis particular. Proporciona una respuesta</div>
<div class="t" style="top:2921.4px;font-size:31.5px;left:56.1px;letter-spacing:0.98px;">a la pregunta: <b>¿Qué sabes de cómo hacerlo?</b></div>
<div class="t j" style="top:2961.5px;font-size:31.5px;left:56.1px;width:4414.9px;letter-spacing:0.88px;"><b>Nivel 3 Evaluar (</b><i>Assessment</i><b>)</b>: El alumno es capaz de <b>considerar un concepto de múltiples puntos de vista</b> y/o <b>justificar la selección de un determinado enfoque</b> para resolver un problema. Este nivel de dominio implica más que el uso de un concepto; se trata de la posibilidad de seleccionar un enfoque adecuado de las</div>
<div class="t" style="top:3001.6px;font-size:31.5px;left:56.1px;letter-spacing:0.88px;">alternativas entendidas. Proporciona una respuesta a la pregunta: <b>¿Por qué hiciste eso?</b></div>
<div style="position:absolute;left:38.6px;top:3062.5px;width:4440.7px;height:53.5px;box-sizing:border-box;border:1.5px solid #111;border-radius:0px;background:#fff;box-shadow:2.5px 2.5px 0 0 #505050,5.3px 5.3px 1.2px 0 #9c9c9c;"></div>
<div class="t j" style="top:3064.9px;font-size:39.5px;left:47.6px;width:4121.1px;letter-spacing:0.80px;"><b>Generado por Ernesto Cuadros-Vargas (ecuadros AT spc.org.pe), Sociedad Peruana de Computación (http://www.spc.org.pe/), basado en la </b><i>Computing Curricula</i><b> de IEEE-CS (http://www.computer.org) y ACM (http://www.acm.org/)</b></div></body></html>
